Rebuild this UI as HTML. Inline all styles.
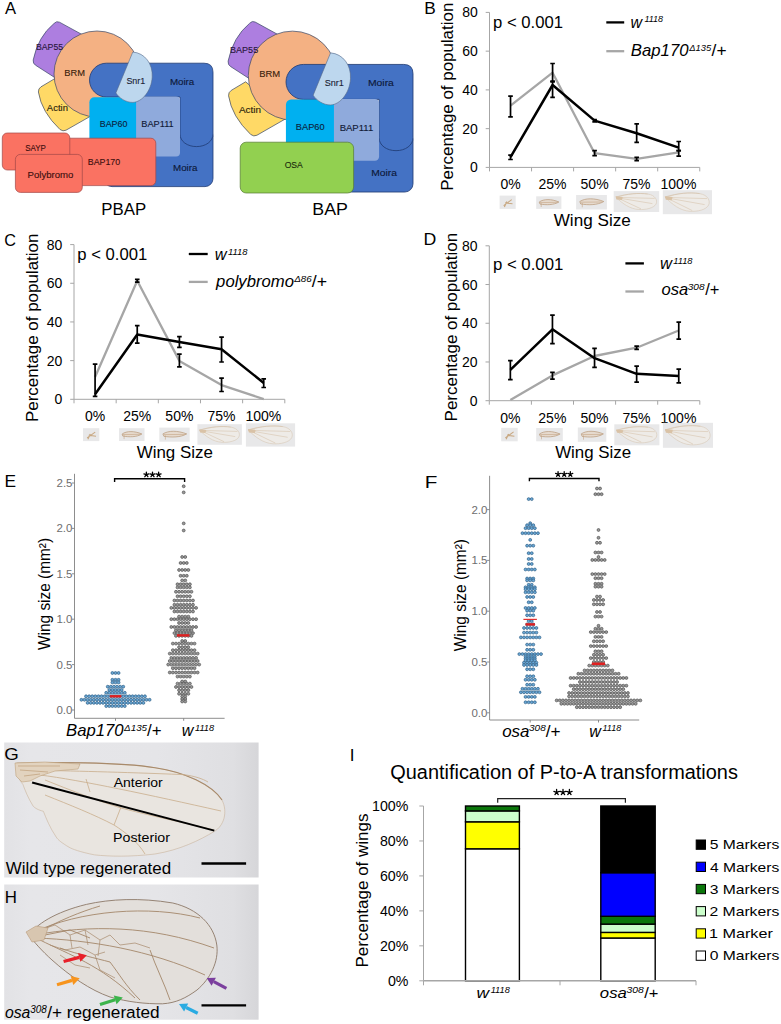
<!DOCTYPE html><html><head><meta charset="utf-8"><style>html,body{margin:0;padding:0;background:#fff;}svg{display:block;} text{font-family:"Liberation Sans",sans-serif;}</style></head><body><svg width="781" height="1024" viewBox="0 0 781 1024"><rect width="781" height="1024" fill="#fff"/><g><path d="M82,34.5 L59.5,22.2 Q56.5,20.6 54,23.5 Q38,36.65 33.2,60 Q32.8,63.5 35.5,65.2 L57,79 Z" fill="#ad7ee0" stroke="#3a4866" stroke-width="0.7"/><path d="M55,78.5 L41,86.8 Q38.2,88.6 38.4,92 Q41.5,112 60,129.5 Q63,131.8 66,130.2 L96,113.1 Z" fill="#ffd966" stroke="#3a4866" stroke-width="0.7"/><circle cx="97" cy="74" r="43" fill="#f4b183" stroke="#3a4866" stroke-width="0.7"/><rect x="104" y="128" width="109" height="58.6" rx="8" fill="#4472c4" stroke="#1f3b73" stroke-width="0.8"/><path d="M106.4,63.2 H204 Q213,63.2 213,72.2 V134 C213,141.5 205.6,146.6 196.5,146.6 C187.4,146.6 180,141.5 180,134 V97 H106.4 A16.9,16.9 0 0 1 106.4,63.2 Z" fill="#4472c4" stroke="#1f3b73" stroke-width="0.8"/><rect x="89.4" y="97.2" width="55" height="55" rx="5" fill="#00b0f0"/><rect x="136.1" y="96.6" width="43.9" height="59.8" rx="4" fill="#8faadc"/><path d="M132.8,52 C145,53 153,64 152.2,77 C151.5,91 142,102 133,102.4 C126,102.6 119,98 115.9,92.9 Z" fill="#bdd7ee" stroke="#56698a" stroke-width="0.6"/></g>
<text x="35.99" y="50.00" font-size="9.30" fill="#28163c" textLength="27.08" lengthAdjust="spacingAndGlyphs" stroke="#28163c" stroke-width="0.12">BAP55</text>
<text x="46.88" y="110.80" font-size="9.30" fill="#2a220c" textLength="21.03" lengthAdjust="spacingAndGlyphs" stroke="#2a220c" stroke-width="0.12">Actin</text>
<text x="64.23" y="76.40" font-size="9.30" fill="#3a1e0c" textLength="20.73" lengthAdjust="spacingAndGlyphs" stroke="#3a1e0c" stroke-width="0.12">BRM</text>
<text x="126.39" y="83.60" font-size="9.30" fill="#1a2234" textLength="18.84" lengthAdjust="spacingAndGlyphs" stroke="#1a2234" stroke-width="0.12">Snr1</text>
<text x="169.90" y="84.80" font-size="9.30" fill="#0c1838" textLength="24.40" lengthAdjust="spacingAndGlyphs" stroke="#0c1838" stroke-width="0.12">Moira</text>
<text x="99.77" y="127.40" font-size="9.30" fill="#0c1e3c" textLength="27.68" lengthAdjust="spacingAndGlyphs" stroke="#0c1e3c" stroke-width="0.12">BAP60</text>
<text x="141.27" y="127.20" font-size="9.30" fill="#0f1834" textLength="32.46" lengthAdjust="spacingAndGlyphs" stroke="#0f1834" stroke-width="0.12">BAP111</text>
<text x="173.00" y="170.70" font-size="9.30" fill="#0c1838" textLength="24.40" lengthAdjust="spacingAndGlyphs" stroke="#0c1838" stroke-width="0.12">Moira</text>
<rect x="60" y="138.2" width="95.8" height="47.4" rx="5" fill="#fa7262" stroke="#a04848" stroke-width="0.7"/>
<rect x="2.3" y="133" width="67.5" height="37" rx="5" fill="#fa7262" stroke="#a04848" stroke-width="0.7"/>
<rect x="15.4" y="154.4" width="66.9" height="38" rx="5" fill="#fa7262" stroke="#a04848" stroke-width="0.7"/>
<text x="25.25" y="150.60" font-size="9.30" fill="#3a0e0e" textLength="20.66" lengthAdjust="spacingAndGlyphs" stroke="#3a0e0e" stroke-width="0.12">SAYP</text>
<text x="27.61" y="178.40" font-size="9.30" fill="#3a0e0e" textLength="45.79" lengthAdjust="spacingAndGlyphs" stroke="#3a0e0e" stroke-width="0.12">Polybromo</text>
<text x="87.78" y="165.20" font-size="9.30" fill="#3a0e0e" textLength="32.37" lengthAdjust="spacingAndGlyphs" stroke="#3a0e0e" stroke-width="0.12">BAP170</text>
<g transform="matrix(1.0282,0,0,1.034,194,-0.92)"><path d="M82,34.5 L59.5,22.2 Q56.5,20.6 54,23.5 Q38,36.65 33.2,60 Q32.8,63.5 35.5,65.2 L57,79 Z" fill="#ad7ee0" stroke="#3a4866" stroke-width="0.7"/><g transform="translate(-4.8,1.5)"><path d="M55,78.5 L41,86.8 Q38.2,88.6 38.4,92 Q41.5,112 60,129.5 Q63,131.8 66,130.2 L96,113.1 Z" fill="#ffd966" stroke="#3a4866" stroke-width="0.7"/></g><circle cx="97" cy="74" r="43" fill="#f4b183" stroke="#3a4866" stroke-width="0.7" transform="translate(-1.2,0)"/><rect x="104" y="128" width="109" height="58.6" rx="8" fill="#4472c4" stroke="#1f3b73" stroke-width="0.8"/><path d="M106.4,63.2 H204 Q213,63.2 213,72.2 V134 C213,141.5 205.6,146.6 196.5,146.6 C187.4,146.6 180,141.5 180,134 V97 H106.4 A16.9,16.9 0 0 1 106.4,63.2 Z" fill="#4472c4" stroke="#1f3b73" stroke-width="0.8"/><rect x="89.4" y="97.2" width="55" height="55" rx="5" fill="#00b0f0"/><rect x="136.1" y="96.6" width="43.9" height="59.8" rx="4" fill="#8faadc"/><path d="M132.8,52 C145,53 153,64 152.2,77 C151.5,91 142,102 133,102.4 C126,102.6 119,98 115.9,92.9 Z" fill="#bdd7ee" stroke="#56698a" stroke-width="0.6"/></g>
<rect x="240.2" y="142.2" width="113.4" height="50.8" rx="6" fill="#92d050" stroke="#557a30" stroke-width="0.7"/>
<text x="230.06" y="52.50" font-size="9.30" fill="#28163c" textLength="28.12" lengthAdjust="spacingAndGlyphs" stroke="#28163c" stroke-width="0.12">BAP55</text>
<text x="238.98" y="113.40" font-size="9.30" fill="#2a220c" textLength="22.06" lengthAdjust="spacingAndGlyphs" stroke="#2a220c" stroke-width="0.12">Actin</text>
<text x="259.23" y="76.60" font-size="9.30" fill="#3a1e0c" textLength="20.95" lengthAdjust="spacingAndGlyphs" stroke="#3a1e0c" stroke-width="0.12">BRM</text>
<text x="324.69" y="85.90" font-size="9.30" fill="#1a2234" textLength="19.15" lengthAdjust="spacingAndGlyphs" stroke="#1a2234" stroke-width="0.12">Snr1</text>
<text x="367.95" y="86.30" font-size="9.30" fill="#0c1838" textLength="25.95" lengthAdjust="spacingAndGlyphs" stroke="#0c1838" stroke-width="0.12">Moira</text>
<text x="295.84" y="130.30" font-size="9.30" fill="#0c1e3c" textLength="28.72" lengthAdjust="spacingAndGlyphs" stroke="#0c1e3c" stroke-width="0.12">BAP60</text>
<text x="339.65" y="130.70" font-size="9.30" fill="#0f1834" textLength="33.60" lengthAdjust="spacingAndGlyphs" stroke="#0f1834" stroke-width="0.12">BAP111</text>
<text x="371.16" y="175.60" font-size="9.30" fill="#0c1838" textLength="25.74" lengthAdjust="spacingAndGlyphs" stroke="#0c1838" stroke-width="0.12">Moira</text>
<text x="284.69" y="168.40" font-size="9.30" fill="#1a2a0c" textLength="18.12" lengthAdjust="spacingAndGlyphs" stroke="#1a2a0c" stroke-width="0.12">OSA</text>
<text x="101.32" y="214.60" font-size="16.50" fill="#000" textLength="44.87" lengthAdjust="spacingAndGlyphs" >PBAP</text>
<text x="312.34" y="214.60" font-size="16.50" fill="#000" textLength="35.60" lengthAdjust="spacingAndGlyphs" >BAP</text>
<text x="4.97" y="14.00" font-size="16.00" fill="#000" textLength="11.06" lengthAdjust="spacingAndGlyphs" >A</text>
<text x="424.28" y="13.80" font-size="16.20" fill="#000" textLength="11.53" lengthAdjust="spacingAndGlyphs" >B</text>
<line x1="489.5" y1="12.40" x2="489.5" y2="167.40" stroke="#a6a6a6" stroke-width="1"/>
<line x1="485.70" y1="167.40" x2="489.5" y2="167.40" stroke="#a6a6a6" stroke-width="1"/>
<text x="469.96" y="172.40" font-size="14.00" fill="#000" >0</text>
<line x1="485.70" y1="128.65" x2="489.5" y2="128.65" stroke="#a6a6a6" stroke-width="1"/>
<text x="462.17" y="133.65" font-size="14.00" fill="#000" >20</text>
<line x1="485.70" y1="89.90" x2="489.5" y2="89.90" stroke="#a6a6a6" stroke-width="1"/>
<text x="462.17" y="94.90" font-size="14.00" fill="#000" >40</text>
<line x1="485.70" y1="51.15" x2="489.5" y2="51.15" stroke="#a6a6a6" stroke-width="1"/>
<text x="462.17" y="56.15" font-size="14.00" fill="#000" >60</text>
<line x1="485.70" y1="12.40" x2="489.5" y2="12.40" stroke="#a6a6a6" stroke-width="1"/>
<text x="462.17" y="17.40" font-size="14.00" fill="#000" >80</text>
<line x1="489.5" y1="167.40" x2="699.75" y2="167.40" stroke="#a6a6a6" stroke-width="1"/>
<line x1="489.50" y1="167.40" x2="489.50" y2="171.40" stroke="#a6a6a6" stroke-width="1"/>
<line x1="531.55" y1="167.40" x2="531.55" y2="171.40" stroke="#a6a6a6" stroke-width="1"/>
<line x1="573.60" y1="167.40" x2="573.60" y2="171.40" stroke="#a6a6a6" stroke-width="1"/>
<line x1="615.65" y1="167.40" x2="615.65" y2="171.40" stroke="#a6a6a6" stroke-width="1"/>
<line x1="657.70" y1="167.40" x2="657.70" y2="171.40" stroke="#a6a6a6" stroke-width="1"/>
<line x1="699.75" y1="167.40" x2="699.75" y2="171.40" stroke="#a6a6a6" stroke-width="1"/>
<text x="500.38" y="189.20" font-size="14.00" fill="#000" >0%</text>
<text x="538.46" y="189.20" font-size="14.00" fill="#000" >25%</text>
<text x="580.58" y="189.20" font-size="14.00" fill="#000" >50%</text>
<text x="622.56" y="189.20" font-size="14.00" fill="#000" >75%</text>
<text x="660.54" y="189.20" font-size="14.00" fill="#000" >100%</text>
<polyline points="510.52,105.70 552.58,72.70 594.62,153.20 636.67,158.80 678.73,152.40" fill="none" stroke="#a6a6a6" stroke-width="2.3" stroke-linejoin="round"/>
<polyline points="510.52,157.20 552.58,85.00 594.62,120.60 636.67,133.30 678.73,147.60" fill="none" stroke="#000" stroke-width="2.5" stroke-linejoin="round"/>
<path d="M510.52,155.20 V159.50 M508.22,155.20 H512.82 M508.22,159.50 H512.82" stroke="#000" stroke-width="1.7" fill="none"/>
<path d="M510.52,96.20 V116.90 M508.22,96.20 H512.82 M508.22,116.90 H512.82" stroke="#000" stroke-width="1.7" fill="none"/>
<path d="M552.58,63.50 V81.80 M550.28,63.50 H554.88 M550.28,81.80 H554.88" stroke="#000" stroke-width="1.7" fill="none"/>
<path d="M552.58,81.10 V97.30 M550.28,81.10 H554.88 M550.28,97.30 H554.88" stroke="#000" stroke-width="1.7" fill="none"/>
<path d="M594.62,119.50 V121.80 M592.33,119.50 H596.92 M592.33,121.80 H596.92" stroke="#000" stroke-width="1.7" fill="none"/>
<path d="M594.62,150.70 V155.60 M592.33,150.70 H596.92 M592.33,155.60 H596.92" stroke="#000" stroke-width="1.7" fill="none"/>
<path d="M636.67,123.80 V142.30 M634.38,123.80 H638.97 M634.38,142.30 H638.97" stroke="#000" stroke-width="1.7" fill="none"/>
<path d="M636.67,157.30 V160.70 M634.38,157.30 H638.97 M634.38,160.70 H638.97" stroke="#000" stroke-width="1.7" fill="none"/>
<path d="M678.73,141.50 V150.70 M676.43,141.50 H681.02 M676.43,150.70 H681.02" stroke="#000" stroke-width="1.7" fill="none"/>
<path d="M678.73,150.70 V156.10 M676.43,150.70 H681.02 M676.43,156.10 H681.02" stroke="#000" stroke-width="1.7" fill="none"/>
<line x1="606.3" y1="22.4" x2="624.2" y2="22.4" stroke="#000" stroke-width="2.3"/>
<line x1="606.3" y1="51.2" x2="624.2" y2="51.2" stroke="#a6a6a6" stroke-width="2.3"/>
<text x="630.50" y="27.60" font-size="16.30" fill="#000" font-style="italic" textLength="11.54" lengthAdjust="spacingAndGlyphs" >w</text><text x="644.38" y="21.80" font-size="9.30" fill="#000" font-style="italic" textLength="18.67" lengthAdjust="spacingAndGlyphs" >1118</text>
<text x="630.78" y="56.10" font-size="16.50" fill="#000" font-style="italic" textLength="57.75" lengthAdjust="spacingAndGlyphs" >Bap170</text><text x="689.28" y="50.80" font-size="9.30" fill="#000" font-style="italic" textLength="21.89" lengthAdjust="spacingAndGlyphs" >Δ135</text><text x="711.60" y="56.10" font-size="16.50" fill="#000" textLength="14.96" lengthAdjust="spacingAndGlyphs" >/+</text>
<text x="493.03" y="27.70" font-size="16.50" fill="#000" textLength="69.99" lengthAdjust="spacingAndGlyphs" >p &lt; 0.001</text>
<rect x="499.60" y="195.60" width="16.10" height="13.30" fill="#e8e8e9"/><path d="M503.6,205.6 L511.7,199.6 M505.2,202.9 L512.5,203.8 M506.8,201.6 L504.4,206.9" stroke="#c8a882" stroke-width="1.1" fill="none"/>
<rect x="536.20" y="196.30" width="25.20" height="12.60" fill="#e8e8e9"/><path d="M539.2,202.0 C543.8,198.8 551.3,198.8 558.9,202.0 C553.8,205.1 546.3,205.1 540.0,204.1 Z" fill="#e6dace" stroke="#b89878" stroke-width="0.7"/><path d="M540.0,202.6 L557.6,202.3 M541.2,203.2 L541.2,207.0" stroke="#c4a584" stroke-width="0.6" fill="none"/>
<rect x="576.10" y="195.00" width="30.80" height="14.50" fill="#e8e8e9"/><path d="M579.8,201.5 C585.3,197.9 594.6,197.9 603.8,201.5 C597.7,205.2 588.4,205.2 580.7,204.0 Z" fill="#e6dace" stroke="#b89878" stroke-width="0.7"/><path d="M580.7,202.2 L602.3,202.0 M582.3,203.0 L582.3,207.3" stroke="#c4a584" stroke-width="0.6" fill="none"/>
<rect x="613.70" y="191.10" width="45.50" height="20.90" fill="#e8e8e9"/><path d="M616.0,197.4 C627.4,193.6 638.7,192.8 647.8,194.0 C655.6,195.3 657.8,200.5 656.0,204.1 C653.7,208.2 645.6,209.9 638.7,209.5 C629.6,208.9 622.8,203.6 616.0,197.4 Z" fill="#eeebe7" stroke="#d6c7b5" stroke-width="0.6"/><path d="M616.0,197.4 L654.7,198.4 M617.3,197.8 L652.4,203.6 M618.2,198.2 L641.0,208.9 M616.0,197.0 C627.4,193.6 638.7,192.8 647.8,194.0" stroke="#d2bca2" stroke-width="0.5" fill="none"/><path d="M615.5,196.3 L622.8,197.0 L621.9,199.9 L616.4,199.5 Z" fill="#d9c2a6"/>
<rect x="662.80" y="190.20" width="49.20" height="24.00" fill="#e8e8e9"/><path d="M665.3,197.4 C677.6,193.1 689.9,192.1 699.7,193.6 C708.1,195.0 710.5,201.0 708.6,205.1 C706.1,209.9 697.2,211.8 689.9,211.3 C680.0,210.6 672.6,204.6 665.3,197.4 Z" fill="#eeebe7" stroke="#d6c7b5" stroke-width="0.6"/><path d="M665.3,197.4 L707.1,198.6 M666.7,197.9 L704.6,204.6 M667.7,198.4 L692.3,210.6 M665.3,196.9 C677.6,193.1 689.9,192.1 699.7,193.6" stroke="#d2bca2" stroke-width="0.5" fill="none"/><path d="M664.8,196.2 L672.6,196.9 L671.7,200.3 L665.8,199.8 Z" fill="#d9c2a6"/>
<text x="553.72" y="225.50" font-size="17.00" fill="#000" textLength="77.04" lengthAdjust="spacingAndGlyphs" >Wing Size</text>
<text transform="translate(453.30,190.79) rotate(-90)" x="0" y="0" font-size="17.00" fill="#000" textLength="188.09" lengthAdjust="spacingAndGlyphs">Percentage of population</text>
<text x="4.27" y="246.20" font-size="16.20" fill="#000" textLength="11.75" lengthAdjust="spacingAndGlyphs" >C</text>
<line x1="74.0" y1="244.60" x2="74.0" y2="399.30" stroke="#a6a6a6" stroke-width="1"/>
<line x1="70.20" y1="399.30" x2="74.0" y2="399.30" stroke="#a6a6a6" stroke-width="1"/>
<text x="54.46" y="404.30" font-size="14.00" fill="#000" >0</text>
<line x1="70.20" y1="360.62" x2="74.0" y2="360.62" stroke="#a6a6a6" stroke-width="1"/>
<text x="46.67" y="365.62" font-size="14.00" fill="#000" >20</text>
<line x1="70.20" y1="321.95" x2="74.0" y2="321.95" stroke="#a6a6a6" stroke-width="1"/>
<text x="46.67" y="326.95" font-size="14.00" fill="#000" >40</text>
<line x1="70.20" y1="283.27" x2="74.0" y2="283.27" stroke="#a6a6a6" stroke-width="1"/>
<text x="46.67" y="288.27" font-size="14.00" fill="#000" >60</text>
<line x1="70.20" y1="244.60" x2="74.0" y2="244.60" stroke="#a6a6a6" stroke-width="1"/>
<text x="46.67" y="249.60" font-size="14.00" fill="#000" >80</text>
<line x1="74.0" y1="399.30" x2="284.80" y2="399.30" stroke="#a6a6a6" stroke-width="1"/>
<line x1="74.00" y1="399.30" x2="74.00" y2="403.30" stroke="#a6a6a6" stroke-width="1"/>
<line x1="116.16" y1="399.30" x2="116.16" y2="403.30" stroke="#a6a6a6" stroke-width="1"/>
<line x1="158.32" y1="399.30" x2="158.32" y2="403.30" stroke="#a6a6a6" stroke-width="1"/>
<line x1="200.48" y1="399.30" x2="200.48" y2="403.30" stroke="#a6a6a6" stroke-width="1"/>
<line x1="242.64" y1="399.30" x2="242.64" y2="403.30" stroke="#a6a6a6" stroke-width="1"/>
<line x1="284.80" y1="399.30" x2="284.80" y2="403.30" stroke="#a6a6a6" stroke-width="1"/>
<text x="84.94" y="421.10" font-size="14.00" fill="#000" >0%</text>
<text x="123.13" y="421.10" font-size="14.00" fill="#000" >25%</text>
<text x="165.36" y="421.10" font-size="14.00" fill="#000" >50%</text>
<text x="207.44" y="421.10" font-size="14.00" fill="#000" >75%</text>
<text x="245.53" y="421.10" font-size="14.00" fill="#000" >100%</text>
<polyline points="95.08,377.00 137.24,280.80 179.40,360.90 221.56,385.10 263.72,399.10" fill="none" stroke="#a6a6a6" stroke-width="2.3" stroke-linejoin="round"/>
<polyline points="95.08,394.20 137.24,334.50 179.40,342.00 221.56,349.30 263.72,382.90" fill="none" stroke="#000" stroke-width="2.5" stroke-linejoin="round"/>
<path d="M95.08,364.10 V396.40 M92.78,364.10 H97.38 M92.78,396.40 H97.38" stroke="#000" stroke-width="1.7" fill="none"/>
<path d="M137.24,325.70 V343.10 M134.94,325.70 H139.54 M134.94,343.10 H139.54" stroke="#000" stroke-width="1.7" fill="none"/>
<path d="M137.24,279.40 V282.10 M134.94,279.40 H139.54 M134.94,282.10 H139.54" stroke="#000" stroke-width="1.7" fill="none"/>
<path d="M179.40,336.70 V347.40 M177.10,336.70 H181.70 M177.10,347.40 H181.70" stroke="#000" stroke-width="1.7" fill="none"/>
<path d="M179.40,354.20 V366.80 M177.10,354.20 H181.70 M177.10,366.80 H181.70" stroke="#000" stroke-width="1.7" fill="none"/>
<path d="M221.56,337.20 V362.00 M219.26,337.20 H223.86 M219.26,362.00 H223.86" stroke="#000" stroke-width="1.7" fill="none"/>
<path d="M221.56,378.10 V391.50 M219.26,378.10 H223.86 M219.26,391.50 H223.86" stroke="#000" stroke-width="1.7" fill="none"/>
<path d="M263.72,378.90 V387.50 M261.42,378.90 H266.02 M261.42,387.50 H266.02" stroke="#000" stroke-width="1.7" fill="none"/>
<line x1="188.8" y1="254" x2="207.7" y2="254" stroke="#000" stroke-width="2.3"/>
<line x1="188.8" y1="281.9" x2="207.7" y2="281.9" stroke="#a6a6a6" stroke-width="2.3"/>
<text x="214.88" y="259.80" font-size="16.30" fill="#000" font-style="italic" textLength="11.84" lengthAdjust="spacingAndGlyphs" >w</text><text x="227.97" y="254.50" font-size="9.30" fill="#000" font-style="italic" textLength="19.48" lengthAdjust="spacingAndGlyphs" >1118</text>
<text x="216.12" y="287.10" font-size="16.50" fill="#000" font-style="italic" textLength="77.91" lengthAdjust="spacingAndGlyphs" >polybromo</text><text x="294.29" y="282.00" font-size="9.30" fill="#000" font-style="italic" textLength="17.51" lengthAdjust="spacingAndGlyphs" >Δ86</text><text x="311.80" y="287.10" font-size="16.50" fill="#000" textLength="15.27" lengthAdjust="spacingAndGlyphs" >/+</text>
<text x="77.33" y="260.30" font-size="16.50" fill="#000" textLength="69.99" lengthAdjust="spacingAndGlyphs" >p &lt; 0.001</text>
<rect x="83.00" y="428.20" width="16.30" height="12.90" fill="#e8e8e9"/><path d="M87.1,437.9 L95.2,432.1 M88.7,435.3 L96.0,436.2 M90.3,434.0 L87.9,439.2" stroke="#c8a882" stroke-width="1.1" fill="none"/>
<rect x="119.00" y="428.20" width="25.50" height="12.80" fill="#e8e8e9"/><path d="M122.1,434.0 C126.7,430.8 134.3,430.8 141.9,434.0 C136.8,437.2 129.2,437.2 122.8,436.1 Z" fill="#e6dace" stroke="#b89878" stroke-width="0.7"/><path d="M122.8,434.6 L140.7,434.3 M124.1,435.2 L124.1,439.1" stroke="#c4a584" stroke-width="0.6" fill="none"/>
<rect x="159.30" y="427.60" width="30.40" height="14.10" fill="#e8e8e9"/><path d="M162.9,433.9 C168.4,430.4 177.5,430.4 186.7,433.9 C180.6,437.5 171.5,437.5 163.9,436.3 Z" fill="#e6dace" stroke="#b89878" stroke-width="0.7"/><path d="M163.9,434.6 L185.1,434.4 M165.4,435.4 L165.4,439.6" stroke="#c4a584" stroke-width="0.6" fill="none"/>
<rect x="197.40" y="424.20" width="44.50" height="20.60" fill="#e8e8e9"/><path d="M199.6,430.4 C210.8,426.7 221.9,425.8 230.8,427.1 C238.3,428.3 240.6,433.5 238.8,437.0 C236.6,441.1 228.6,442.7 221.9,442.3 C213.0,441.7 206.3,436.6 199.6,430.4 Z" fill="#eeebe7" stroke="#d6c7b5" stroke-width="0.6"/><path d="M199.6,430.4 L237.5,431.4 M201.0,430.8 L235.2,436.6 M201.8,431.2 L224.1,441.7 M199.6,430.0 C210.8,426.7 221.9,425.8 230.8,427.1" stroke="#d2bca2" stroke-width="0.5" fill="none"/><path d="M199.2,429.4 L206.3,430.0 L205.4,432.9 L200.1,432.4 Z" fill="#d9c2a6"/>
<rect x="245.90" y="423.30" width="49.20" height="23.30" fill="#e8e8e9"/><path d="M248.4,430.3 C260.7,426.1 273.0,425.2 282.8,426.6 C291.2,428.0 293.6,433.8 291.7,437.7 C289.2,442.4 280.3,444.3 273.0,443.8 C263.1,443.1 255.7,437.3 248.4,430.3 Z" fill="#eeebe7" stroke="#d6c7b5" stroke-width="0.6"/><path d="M248.4,430.3 L290.2,431.5 M249.8,430.8 L287.7,437.3 M250.8,431.2 L275.4,443.1 M248.4,429.8 C260.7,426.1 273.0,425.2 282.8,426.6" stroke="#d2bca2" stroke-width="0.5" fill="none"/><path d="M247.9,429.1 L255.7,429.8 L254.8,433.1 L248.9,432.6 Z" fill="#d9c2a6"/>
<text x="136.73" y="458.00" font-size="17.00" fill="#000" textLength="76.13" lengthAdjust="spacingAndGlyphs" >Wing Size</text>
<text transform="translate(37.90,422.09) rotate(-90)" x="0" y="0" font-size="17.00" fill="#000" textLength="188.49" lengthAdjust="spacingAndGlyphs">Percentage of population</text>
<text x="423.55" y="244.60" font-size="16.20" fill="#000" textLength="12.80" lengthAdjust="spacingAndGlyphs" >D</text>
<line x1="489.3" y1="245.80" x2="489.3" y2="400.70" stroke="#a6a6a6" stroke-width="1"/>
<line x1="485.50" y1="400.70" x2="489.3" y2="400.70" stroke="#a6a6a6" stroke-width="1"/>
<text x="469.76" y="405.70" font-size="14.00" fill="#000" >0</text>
<line x1="485.50" y1="361.98" x2="489.3" y2="361.98" stroke="#a6a6a6" stroke-width="1"/>
<text x="461.97" y="366.98" font-size="14.00" fill="#000" >20</text>
<line x1="485.50" y1="323.25" x2="489.3" y2="323.25" stroke="#a6a6a6" stroke-width="1"/>
<text x="461.97" y="328.25" font-size="14.00" fill="#000" >40</text>
<line x1="485.50" y1="284.52" x2="489.3" y2="284.52" stroke="#a6a6a6" stroke-width="1"/>
<text x="461.97" y="289.52" font-size="14.00" fill="#000" >60</text>
<line x1="485.50" y1="245.80" x2="489.3" y2="245.80" stroke="#a6a6a6" stroke-width="1"/>
<text x="461.97" y="250.80" font-size="14.00" fill="#000" >80</text>
<line x1="489.3" y1="400.70" x2="699.80" y2="400.70" stroke="#a6a6a6" stroke-width="1"/>
<line x1="489.30" y1="400.70" x2="489.30" y2="404.70" stroke="#a6a6a6" stroke-width="1"/>
<line x1="531.40" y1="400.70" x2="531.40" y2="404.70" stroke="#a6a6a6" stroke-width="1"/>
<line x1="573.50" y1="400.70" x2="573.50" y2="404.70" stroke="#a6a6a6" stroke-width="1"/>
<line x1="615.60" y1="400.70" x2="615.60" y2="404.70" stroke="#a6a6a6" stroke-width="1"/>
<line x1="657.70" y1="400.70" x2="657.70" y2="404.70" stroke="#a6a6a6" stroke-width="1"/>
<line x1="699.80" y1="400.70" x2="699.80" y2="404.70" stroke="#a6a6a6" stroke-width="1"/>
<text x="500.21" y="422.50" font-size="14.00" fill="#000" >0%</text>
<text x="538.34" y="422.50" font-size="14.00" fill="#000" >25%</text>
<text x="580.51" y="422.50" font-size="14.00" fill="#000" >50%</text>
<text x="622.53" y="422.50" font-size="14.00" fill="#000" >75%</text>
<text x="660.56" y="422.50" font-size="14.00" fill="#000" >100%</text>
<polyline points="510.35,400.00 552.45,375.40 594.55,356.00 636.65,347.70 678.75,330.50" fill="none" stroke="#a6a6a6" stroke-width="2.3" stroke-linejoin="round"/>
<polyline points="510.35,369.90 552.45,329.30 594.55,358.20 636.65,373.80 678.75,376.00" fill="none" stroke="#000" stroke-width="2.5" stroke-linejoin="round"/>
<path d="M510.35,360.60 V379.70 M508.05,360.60 H512.65 M508.05,379.70 H512.65" stroke="#000" stroke-width="1.7" fill="none"/>
<path d="M552.45,315.10 V343.70 M550.15,315.10 H554.75 M550.15,343.70 H554.75" stroke="#000" stroke-width="1.7" fill="none"/>
<path d="M594.55,348.30 V367.40 M592.25,348.30 H596.85 M592.25,367.40 H596.85" stroke="#000" stroke-width="1.7" fill="none"/>
<path d="M636.65,366.20 V382.10 M634.35,366.20 H638.95 M634.35,382.10 H638.95" stroke="#000" stroke-width="1.7" fill="none"/>
<path d="M678.75,369.20 V382.80 M676.45,369.20 H681.05 M676.45,382.80 H681.05" stroke="#000" stroke-width="1.7" fill="none"/>
<path d="M552.45,372.30 V379.10 M550.15,372.30 H554.75 M550.15,379.10 H554.75" stroke="#000" stroke-width="1.7" fill="none"/>
<path d="M636.65,346.20 V349.30 M634.35,346.20 H638.95 M634.35,349.30 H638.95" stroke="#000" stroke-width="1.7" fill="none"/>
<path d="M678.75,322.20 V339.10 M676.45,322.20 H681.05 M676.45,339.10 H681.05" stroke="#000" stroke-width="1.7" fill="none"/>
<line x1="625.4" y1="263.4" x2="643.9" y2="263.4" stroke="#000" stroke-width="2.3"/>
<line x1="625.4" y1="291.5" x2="643.9" y2="291.5" stroke="#a6a6a6" stroke-width="2.3"/>
<text x="659.98" y="268.60" font-size="16.30" fill="#000" font-style="italic" textLength="11.94" lengthAdjust="spacingAndGlyphs" >w</text><text x="673.28" y="263.60" font-size="9.30" fill="#000" font-style="italic" textLength="19.27" lengthAdjust="spacingAndGlyphs" >1118</text>
<text x="661.46" y="295.40" font-size="16.50" fill="#000" font-style="italic" textLength="26.71" lengthAdjust="spacingAndGlyphs" >osa</text><text x="687.66" y="290.40" font-size="9.30" fill="#000" font-style="italic" textLength="16.90" lengthAdjust="spacingAndGlyphs" >308</text><text x="705.20" y="295.40" font-size="16.50" fill="#000" textLength="14.21" lengthAdjust="spacingAndGlyphs" >/+</text>
<text x="492.92" y="270.30" font-size="16.50" fill="#000" textLength="70.40" lengthAdjust="spacingAndGlyphs" >p &lt; 0.001</text>
<rect x="501.20" y="427.80" width="16.50" height="13.50" fill="#e8e8e9"/><path d="M505.3,437.9 L513.6,431.9 M507.0,435.2 L514.4,436.2 M508.6,433.9 L506.1,439.3" stroke="#c8a882" stroke-width="1.1" fill="none"/>
<rect x="536.20" y="428.00" width="26.60" height="13.30" fill="#e8e8e9"/><path d="M539.4,434.0 C544.2,430.7 552.2,430.7 560.1,434.0 C554.8,437.3 546.8,437.3 540.2,436.2 Z" fill="#e6dace" stroke="#b89878" stroke-width="0.7"/><path d="M540.2,434.6 L558.8,434.4 M541.5,435.3 L541.5,439.3" stroke="#c4a584" stroke-width="0.6" fill="none"/>
<rect x="577.80" y="427.50" width="28.50" height="14.30" fill="#e8e8e9"/><path d="M581.2,433.9 C586.3,430.4 594.9,430.4 603.4,433.9 C597.8,437.5 589.2,437.5 582.1,436.4 Z" fill="#e6dace" stroke="#b89878" stroke-width="0.7"/><path d="M582.1,434.6 L602.0,434.4 M583.5,435.4 L583.5,439.7" stroke="#c4a584" stroke-width="0.6" fill="none"/>
<rect x="614.30" y="424.30" width="45.10" height="21.00" fill="#e8e8e9"/><path d="M616.6,430.6 C627.8,426.8 639.1,426.0 648.1,427.2 C655.8,428.5 658.0,433.8 656.2,437.3 C654.0,441.5 645.9,443.2 639.1,442.8 C630.1,442.2 623.3,436.9 616.6,430.6 Z" fill="#eeebe7" stroke="#d6c7b5" stroke-width="0.6"/><path d="M616.6,430.6 L654.9,431.7 M617.9,431.0 L652.6,436.9 M618.8,431.4 L641.4,442.2 M616.6,430.2 C627.8,426.8 639.1,426.0 648.1,427.2" stroke="#d2bca2" stroke-width="0.5" fill="none"/><path d="M616.1,429.6 L623.3,430.2 L622.4,433.1 L617.0,432.7 Z" fill="#d9c2a6"/>
<rect x="662.90" y="422.80" width="50.10" height="25.00" fill="#e8e8e9"/><path d="M665.4,430.3 C677.9,425.8 690.5,424.8 700.5,426.3 C709.0,427.8 711.5,434.1 709.5,438.3 C707.0,443.3 698.0,445.3 690.5,444.8 C680.4,444.1 672.9,437.8 665.4,430.3 Z" fill="#eeebe7" stroke="#d6c7b5" stroke-width="0.6"/><path d="M665.4,430.3 L708.0,431.6 M666.9,430.8 L705.5,437.8 M667.9,431.3 L693.0,444.1 M665.4,429.8 C677.9,425.8 690.5,424.8 700.5,426.3" stroke="#d2bca2" stroke-width="0.5" fill="none"/><path d="M664.9,429.1 L672.9,429.8 L671.9,433.3 L665.9,432.8 Z" fill="#d9c2a6"/>
<text x="555.13" y="457.80" font-size="17.00" fill="#000" textLength="76.02" lengthAdjust="spacingAndGlyphs" >Wing Size</text>
<text transform="translate(456.60,421.39) rotate(-90)" x="0" y="0" font-size="17.00" fill="#000" textLength="188.49" lengthAdjust="spacingAndGlyphs">Percentage of population</text>
<text x="4.48" y="487.00" font-size="17.00" fill="#000" textLength="11.57" lengthAdjust="spacingAndGlyphs" >E</text>
<line x1="74.5" y1="473.8" x2="74.5" y2="718.3" stroke="#808080" stroke-width="0.9"/>
<line x1="74.5" y1="718.3" x2="224.6" y2="718.3" stroke="#808080" stroke-width="0.9"/>
<line x1="72.0" y1="710.00" x2="74.5" y2="710.00" stroke="#808080" stroke-width="0.9"/>
<text x="56.46" y="714.00" font-size="11.50" fill="#6e6e6e" >0.0</text>
<line x1="72.0" y1="664.60" x2="74.5" y2="664.60" stroke="#808080" stroke-width="0.9"/>
<text x="56.50" y="668.60" font-size="11.50" fill="#6e6e6e" >0.5</text>
<line x1="72.0" y1="619.20" x2="74.5" y2="619.20" stroke="#808080" stroke-width="0.9"/>
<text x="56.46" y="623.20" font-size="11.50" fill="#6e6e6e" >1.0</text>
<line x1="72.0" y1="573.80" x2="74.5" y2="573.80" stroke="#808080" stroke-width="0.9"/>
<text x="56.50" y="577.80" font-size="11.50" fill="#6e6e6e" >1.5</text>
<line x1="72.0" y1="528.40" x2="74.5" y2="528.40" stroke="#808080" stroke-width="0.9"/>
<text x="56.46" y="532.40" font-size="11.50" fill="#6e6e6e" >2.0</text>
<line x1="72.0" y1="483.00" x2="74.5" y2="483.00" stroke="#808080" stroke-width="0.9"/>
<text x="56.50" y="487.00" font-size="11.50" fill="#6e6e6e" >2.5</text>
<line x1="115.5" y1="718.3" x2="115.5" y2="720.8" stroke="#808080" stroke-width="0.9"/>
<line x1="183.7" y1="718.3" x2="183.7" y2="720.8" stroke="#808080" stroke-width="0.9"/>
<g fill="#9a9a9a" stroke="#4a4a4a" stroke-width="0.65"><circle cx="183.70" cy="486.30" r="1.45"/><circle cx="183.70" cy="492.40" r="1.45"/><circle cx="183.70" cy="523.40" r="1.45"/><circle cx="183.70" cy="530.50" r="1.45"/><circle cx="182.15" cy="557.00" r="1.45"/><circle cx="185.25" cy="557.00" r="1.45"/><circle cx="180.60" cy="563.00" r="1.45"/><circle cx="183.70" cy="563.00" r="1.45"/><circle cx="186.80" cy="563.00" r="1.45"/><circle cx="179.05" cy="570.00" r="1.45"/><circle cx="182.15" cy="570.00" r="1.45"/><circle cx="185.25" cy="570.00" r="1.45"/><circle cx="188.35" cy="570.00" r="1.45"/><circle cx="180.60" cy="575.80" r="1.45"/><circle cx="183.70" cy="575.80" r="1.45"/><circle cx="186.80" cy="575.80" r="1.45"/><circle cx="182.15" cy="580.40" r="1.45"/><circle cx="185.25" cy="580.40" r="1.45"/><circle cx="177.50" cy="584.30" r="1.45"/><circle cx="180.60" cy="584.30" r="1.45"/><circle cx="183.70" cy="584.30" r="1.45"/><circle cx="186.80" cy="584.30" r="1.45"/><circle cx="189.90" cy="584.30" r="1.45"/><circle cx="177.50" cy="587.40" r="1.45"/><circle cx="180.60" cy="587.40" r="1.45"/><circle cx="183.70" cy="587.40" r="1.45"/><circle cx="186.80" cy="587.40" r="1.45"/><circle cx="189.90" cy="587.40" r="1.45"/><circle cx="175.95" cy="591.80" r="1.45"/><circle cx="179.05" cy="591.80" r="1.45"/><circle cx="182.15" cy="591.80" r="1.45"/><circle cx="185.25" cy="591.80" r="1.45"/><circle cx="188.35" cy="591.80" r="1.45"/><circle cx="191.45" cy="591.80" r="1.45"/><circle cx="177.50" cy="596.30" r="1.45"/><circle cx="180.60" cy="596.30" r="1.45"/><circle cx="183.70" cy="596.30" r="1.45"/><circle cx="186.80" cy="596.30" r="1.45"/><circle cx="189.90" cy="596.30" r="1.45"/><circle cx="174.40" cy="600.50" r="1.45"/><circle cx="177.50" cy="600.50" r="1.45"/><circle cx="180.60" cy="600.50" r="1.45"/><circle cx="183.70" cy="600.50" r="1.45"/><circle cx="186.80" cy="600.50" r="1.45"/><circle cx="189.90" cy="600.50" r="1.45"/><circle cx="193.00" cy="600.50" r="1.45"/><circle cx="174.40" cy="604.80" r="1.45"/><circle cx="177.50" cy="604.80" r="1.45"/><circle cx="180.60" cy="604.80" r="1.45"/><circle cx="183.70" cy="604.80" r="1.45"/><circle cx="186.80" cy="604.80" r="1.45"/><circle cx="189.90" cy="604.80" r="1.45"/><circle cx="193.00" cy="604.80" r="1.45"/><circle cx="171.30" cy="607.90" r="1.45"/><circle cx="174.40" cy="607.90" r="1.45"/><circle cx="177.50" cy="607.90" r="1.45"/><circle cx="180.60" cy="607.90" r="1.45"/><circle cx="183.70" cy="607.90" r="1.45"/><circle cx="186.80" cy="607.90" r="1.45"/><circle cx="189.90" cy="607.90" r="1.45"/><circle cx="193.00" cy="607.90" r="1.45"/><circle cx="196.10" cy="607.90" r="1.45"/><circle cx="174.40" cy="611.50" r="1.45"/><circle cx="177.50" cy="611.50" r="1.45"/><circle cx="180.60" cy="611.50" r="1.45"/><circle cx="183.70" cy="611.50" r="1.45"/><circle cx="186.80" cy="611.50" r="1.45"/><circle cx="189.90" cy="611.50" r="1.45"/><circle cx="193.00" cy="611.50" r="1.45"/><circle cx="179.05" cy="616.60" r="1.45"/><circle cx="182.15" cy="616.60" r="1.45"/><circle cx="185.25" cy="616.60" r="1.45"/><circle cx="188.35" cy="616.60" r="1.45"/><circle cx="171.30" cy="619.20" r="1.45"/><circle cx="174.40" cy="619.20" r="1.45"/><circle cx="177.50" cy="619.20" r="1.45"/><circle cx="180.60" cy="619.20" r="1.45"/><circle cx="183.70" cy="619.20" r="1.45"/><circle cx="186.80" cy="619.20" r="1.45"/><circle cx="189.90" cy="619.20" r="1.45"/><circle cx="193.00" cy="619.20" r="1.45"/><circle cx="196.10" cy="619.20" r="1.45"/><circle cx="179.05" cy="623.00" r="1.45"/><circle cx="182.15" cy="623.00" r="1.45"/><circle cx="185.25" cy="623.00" r="1.45"/><circle cx="188.35" cy="623.00" r="1.45"/><circle cx="171.30" cy="627.00" r="1.45"/><circle cx="174.40" cy="627.00" r="1.45"/><circle cx="177.50" cy="627.00" r="1.45"/><circle cx="180.60" cy="627.00" r="1.45"/><circle cx="183.70" cy="627.00" r="1.45"/><circle cx="186.80" cy="627.00" r="1.45"/><circle cx="189.90" cy="627.00" r="1.45"/><circle cx="193.00" cy="627.00" r="1.45"/><circle cx="196.10" cy="627.00" r="1.45"/><circle cx="175.95" cy="630.20" r="1.45"/><circle cx="179.05" cy="630.20" r="1.45"/><circle cx="182.15" cy="630.20" r="1.45"/><circle cx="185.25" cy="630.20" r="1.45"/><circle cx="188.35" cy="630.20" r="1.45"/><circle cx="191.45" cy="630.20" r="1.45"/><circle cx="174.40" cy="633.10" r="1.45"/><circle cx="177.50" cy="633.10" r="1.45"/><circle cx="180.60" cy="633.10" r="1.45"/><circle cx="183.70" cy="633.10" r="1.45"/><circle cx="186.80" cy="633.10" r="1.45"/><circle cx="189.90" cy="633.10" r="1.45"/><circle cx="193.00" cy="633.10" r="1.45"/><circle cx="175.95" cy="635.90" r="1.45"/><circle cx="179.05" cy="635.90" r="1.45"/><circle cx="182.15" cy="635.90" r="1.45"/><circle cx="185.25" cy="635.90" r="1.45"/><circle cx="188.35" cy="635.90" r="1.45"/><circle cx="191.45" cy="635.90" r="1.45"/><circle cx="182.15" cy="641.00" r="1.45"/><circle cx="185.25" cy="641.00" r="1.45"/><circle cx="172.85" cy="643.60" r="1.45"/><circle cx="175.95" cy="643.60" r="1.45"/><circle cx="179.05" cy="643.60" r="1.45"/><circle cx="182.15" cy="643.60" r="1.45"/><circle cx="185.25" cy="643.60" r="1.45"/><circle cx="188.35" cy="643.60" r="1.45"/><circle cx="191.45" cy="643.60" r="1.45"/><circle cx="194.55" cy="643.60" r="1.45"/><circle cx="179.05" cy="647.20" r="1.45"/><circle cx="182.15" cy="647.20" r="1.45"/><circle cx="185.25" cy="647.20" r="1.45"/><circle cx="188.35" cy="647.20" r="1.45"/><circle cx="172.85" cy="650.20" r="1.45"/><circle cx="175.95" cy="650.20" r="1.45"/><circle cx="179.05" cy="650.20" r="1.45"/><circle cx="182.15" cy="650.20" r="1.45"/><circle cx="185.25" cy="650.20" r="1.45"/><circle cx="188.35" cy="650.20" r="1.45"/><circle cx="191.45" cy="650.20" r="1.45"/><circle cx="194.55" cy="650.20" r="1.45"/><circle cx="169.75" cy="653.60" r="1.45"/><circle cx="172.85" cy="653.60" r="1.45"/><circle cx="175.95" cy="653.60" r="1.45"/><circle cx="179.05" cy="653.60" r="1.45"/><circle cx="182.15" cy="653.60" r="1.45"/><circle cx="185.25" cy="653.60" r="1.45"/><circle cx="188.35" cy="653.60" r="1.45"/><circle cx="191.45" cy="653.60" r="1.45"/><circle cx="194.55" cy="653.60" r="1.45"/><circle cx="197.65" cy="653.60" r="1.45"/><circle cx="171.30" cy="657.90" r="1.45"/><circle cx="174.40" cy="657.90" r="1.45"/><circle cx="177.50" cy="657.90" r="1.45"/><circle cx="180.60" cy="657.90" r="1.45"/><circle cx="183.70" cy="657.90" r="1.45"/><circle cx="186.80" cy="657.90" r="1.45"/><circle cx="189.90" cy="657.90" r="1.45"/><circle cx="193.00" cy="657.90" r="1.45"/><circle cx="196.10" cy="657.90" r="1.45"/><circle cx="169.75" cy="661.00" r="1.45"/><circle cx="172.85" cy="661.00" r="1.45"/><circle cx="175.95" cy="661.00" r="1.45"/><circle cx="179.05" cy="661.00" r="1.45"/><circle cx="182.15" cy="661.00" r="1.45"/><circle cx="185.25" cy="661.00" r="1.45"/><circle cx="188.35" cy="661.00" r="1.45"/><circle cx="191.45" cy="661.00" r="1.45"/><circle cx="194.55" cy="661.00" r="1.45"/><circle cx="197.65" cy="661.00" r="1.45"/><circle cx="168.20" cy="664.60" r="1.45"/><circle cx="171.30" cy="664.60" r="1.45"/><circle cx="174.40" cy="664.60" r="1.45"/><circle cx="177.50" cy="664.60" r="1.45"/><circle cx="180.60" cy="664.60" r="1.45"/><circle cx="183.70" cy="664.60" r="1.45"/><circle cx="186.80" cy="664.60" r="1.45"/><circle cx="189.90" cy="664.60" r="1.45"/><circle cx="193.00" cy="664.60" r="1.45"/><circle cx="196.10" cy="664.60" r="1.45"/><circle cx="199.20" cy="664.60" r="1.45"/><circle cx="172.85" cy="668.20" r="1.45"/><circle cx="175.95" cy="668.20" r="1.45"/><circle cx="179.05" cy="668.20" r="1.45"/><circle cx="182.15" cy="668.20" r="1.45"/><circle cx="185.25" cy="668.20" r="1.45"/><circle cx="188.35" cy="668.20" r="1.45"/><circle cx="191.45" cy="668.20" r="1.45"/><circle cx="194.55" cy="668.20" r="1.45"/><circle cx="169.75" cy="672.50" r="1.45"/><circle cx="172.85" cy="672.50" r="1.45"/><circle cx="175.95" cy="672.50" r="1.45"/><circle cx="179.05" cy="672.50" r="1.45"/><circle cx="182.15" cy="672.50" r="1.45"/><circle cx="185.25" cy="672.50" r="1.45"/><circle cx="188.35" cy="672.50" r="1.45"/><circle cx="191.45" cy="672.50" r="1.45"/><circle cx="194.55" cy="672.50" r="1.45"/><circle cx="197.65" cy="672.50" r="1.45"/><circle cx="177.50" cy="676.60" r="1.45"/><circle cx="180.60" cy="676.60" r="1.45"/><circle cx="183.70" cy="676.60" r="1.45"/><circle cx="186.80" cy="676.60" r="1.45"/><circle cx="189.90" cy="676.60" r="1.45"/><circle cx="182.15" cy="681.50" r="1.45"/><circle cx="185.25" cy="681.50" r="1.45"/><circle cx="177.50" cy="683.60" r="1.45"/><circle cx="180.60" cy="683.60" r="1.45"/><circle cx="183.70" cy="683.60" r="1.45"/><circle cx="186.80" cy="683.60" r="1.45"/><circle cx="189.90" cy="683.60" r="1.45"/><circle cx="175.95" cy="687.00" r="1.45"/><circle cx="179.05" cy="687.00" r="1.45"/><circle cx="182.15" cy="687.00" r="1.45"/><circle cx="185.25" cy="687.00" r="1.45"/><circle cx="188.35" cy="687.00" r="1.45"/><circle cx="191.45" cy="687.00" r="1.45"/><circle cx="179.05" cy="690.20" r="1.45"/><circle cx="182.15" cy="690.20" r="1.45"/><circle cx="185.25" cy="690.20" r="1.45"/><circle cx="188.35" cy="690.20" r="1.45"/><circle cx="179.05" cy="693.80" r="1.45"/><circle cx="182.15" cy="693.80" r="1.45"/><circle cx="185.25" cy="693.80" r="1.45"/><circle cx="188.35" cy="693.80" r="1.45"/><circle cx="182.15" cy="696.40" r="1.45"/><circle cx="185.25" cy="696.40" r="1.45"/><circle cx="182.15" cy="699.00" r="1.45"/><circle cx="185.25" cy="699.00" r="1.45"/><circle cx="182.15" cy="701.50" r="1.45"/><circle cx="185.25" cy="701.50" r="1.45"/></g>
<g fill="#6aa8d6" stroke="#2a5a80" stroke-width="0.65"><circle cx="112.40" cy="673.00" r="1.45"/><circle cx="115.50" cy="673.00" r="1.45"/><circle cx="118.60" cy="673.00" r="1.45"/><circle cx="112.40" cy="679.80" r="1.45"/><circle cx="115.50" cy="679.80" r="1.45"/><circle cx="118.60" cy="679.80" r="1.45"/><circle cx="112.40" cy="682.50" r="1.45"/><circle cx="115.50" cy="682.50" r="1.45"/><circle cx="118.60" cy="682.50" r="1.45"/><circle cx="107.75" cy="686.70" r="1.45"/><circle cx="110.85" cy="686.70" r="1.45"/><circle cx="113.95" cy="686.70" r="1.45"/><circle cx="117.05" cy="686.70" r="1.45"/><circle cx="120.15" cy="686.70" r="1.45"/><circle cx="123.25" cy="686.70" r="1.45"/><circle cx="109.30" cy="690.00" r="1.45"/><circle cx="112.40" cy="690.00" r="1.45"/><circle cx="115.50" cy="690.00" r="1.45"/><circle cx="118.60" cy="690.00" r="1.45"/><circle cx="121.70" cy="690.00" r="1.45"/><circle cx="106.20" cy="692.80" r="1.45"/><circle cx="109.30" cy="692.80" r="1.45"/><circle cx="112.40" cy="692.80" r="1.45"/><circle cx="115.50" cy="692.80" r="1.45"/><circle cx="118.60" cy="692.80" r="1.45"/><circle cx="121.70" cy="692.80" r="1.45"/><circle cx="124.80" cy="692.80" r="1.45"/><circle cx="86.05" cy="696.30" r="1.45"/><circle cx="89.15" cy="696.30" r="1.45"/><circle cx="92.25" cy="696.30" r="1.45"/><circle cx="95.35" cy="696.30" r="1.45"/><circle cx="98.45" cy="696.30" r="1.45"/><circle cx="101.55" cy="696.30" r="1.45"/><circle cx="104.65" cy="696.30" r="1.45"/><circle cx="107.75" cy="696.30" r="1.45"/><circle cx="110.85" cy="696.30" r="1.45"/><circle cx="113.95" cy="696.30" r="1.45"/><circle cx="117.05" cy="696.30" r="1.45"/><circle cx="120.15" cy="696.30" r="1.45"/><circle cx="123.25" cy="696.30" r="1.45"/><circle cx="126.35" cy="696.30" r="1.45"/><circle cx="129.45" cy="696.30" r="1.45"/><circle cx="132.55" cy="696.30" r="1.45"/><circle cx="135.65" cy="696.30" r="1.45"/><circle cx="138.75" cy="696.30" r="1.45"/><circle cx="141.85" cy="696.30" r="1.45"/><circle cx="144.95" cy="696.30" r="1.45"/><circle cx="81.40" cy="699.80" r="1.45"/><circle cx="84.50" cy="699.80" r="1.45"/><circle cx="87.60" cy="699.80" r="1.45"/><circle cx="90.70" cy="699.80" r="1.45"/><circle cx="93.80" cy="699.80" r="1.45"/><circle cx="96.90" cy="699.80" r="1.45"/><circle cx="100.00" cy="699.80" r="1.45"/><circle cx="103.10" cy="699.80" r="1.45"/><circle cx="106.20" cy="699.80" r="1.45"/><circle cx="109.30" cy="699.80" r="1.45"/><circle cx="112.40" cy="699.80" r="1.45"/><circle cx="115.50" cy="699.80" r="1.45"/><circle cx="118.60" cy="699.80" r="1.45"/><circle cx="121.70" cy="699.80" r="1.45"/><circle cx="124.80" cy="699.80" r="1.45"/><circle cx="127.90" cy="699.80" r="1.45"/><circle cx="131.00" cy="699.80" r="1.45"/><circle cx="134.10" cy="699.80" r="1.45"/><circle cx="137.20" cy="699.80" r="1.45"/><circle cx="140.30" cy="699.80" r="1.45"/><circle cx="143.40" cy="699.80" r="1.45"/><circle cx="146.50" cy="699.80" r="1.45"/><circle cx="149.60" cy="699.80" r="1.45"/><circle cx="87.60" cy="702.90" r="1.45"/><circle cx="90.70" cy="702.90" r="1.45"/><circle cx="93.80" cy="702.90" r="1.45"/><circle cx="96.90" cy="702.90" r="1.45"/><circle cx="100.00" cy="702.90" r="1.45"/><circle cx="103.10" cy="702.90" r="1.45"/><circle cx="106.20" cy="702.90" r="1.45"/><circle cx="109.30" cy="702.90" r="1.45"/><circle cx="112.40" cy="702.90" r="1.45"/><circle cx="115.50" cy="702.90" r="1.45"/><circle cx="118.60" cy="702.90" r="1.45"/><circle cx="121.70" cy="702.90" r="1.45"/><circle cx="124.80" cy="702.90" r="1.45"/><circle cx="127.90" cy="702.90" r="1.45"/><circle cx="131.00" cy="702.90" r="1.45"/><circle cx="134.10" cy="702.90" r="1.45"/><circle cx="137.20" cy="702.90" r="1.45"/><circle cx="140.30" cy="702.90" r="1.45"/><circle cx="143.40" cy="702.90" r="1.45"/><circle cx="106.20" cy="706.10" r="1.45"/><circle cx="109.30" cy="706.10" r="1.45"/><circle cx="112.40" cy="706.10" r="1.45"/><circle cx="115.50" cy="706.10" r="1.45"/><circle cx="118.60" cy="706.10" r="1.45"/><circle cx="121.70" cy="706.10" r="1.45"/><circle cx="124.80" cy="706.10" r="1.45"/></g>
<rect x="177" y="634.2" width="12.4" height="2.4" fill="#e02020"/>
<rect x="109.8" y="695.1" width="11.5" height="2.4" fill="#e02020"/>
<path d="M114.6,481.9 V478.8 H184.6 V481.9" stroke="#000" stroke-width="1.4" fill="none"/>
<path d="M146.37,474.65 L146.37,472.08 M146.37,474.65 L148.81,473.86 M146.37,474.65 L147.88,476.73 M146.37,474.65 L144.85,476.73 M146.37,474.65 L143.92,473.86 M152.50,474.65 L152.50,472.08 M152.50,474.65 L154.95,473.86 M152.50,474.65 L154.01,476.73 M152.50,474.65 L150.99,476.73 M152.50,474.65 L150.05,473.86 M158.63,474.65 L158.63,472.08 M158.63,474.65 L161.08,473.86 M158.63,474.65 L160.15,476.73 M158.63,474.65 L157.12,476.73 M158.63,474.65 L156.19,473.86" stroke="#000" stroke-width="1.3" fill="none" stroke-linecap="round"/>
<text transform="translate(50.00,649.97) rotate(-90)" x="0" y="0" font-size="16.30" fill="#000" textLength="112.02" lengthAdjust="spacingAndGlyphs">Wing size (mm²)</text>
<text x="66.09" y="736.10" font-size="16.50" fill="#000" font-style="italic" textLength="57.55" lengthAdjust="spacingAndGlyphs" >Bap170</text><text x="124.09" y="730.80" font-size="9.30" fill="#000" font-style="italic" textLength="22.98" lengthAdjust="spacingAndGlyphs" >Δ135</text><text x="147.10" y="736.10" font-size="16.50" fill="#000" textLength="14.53" lengthAdjust="spacingAndGlyphs" >/+</text>
<text x="181.70" y="736.10" font-size="16.30" fill="#000" font-style="italic" textLength="11.64" lengthAdjust="spacingAndGlyphs" >w</text><text x="194.98" y="730.80" font-size="9.30" fill="#000" font-style="italic" textLength="19.17" lengthAdjust="spacingAndGlyphs" >1118</text>
<text x="424.80" y="487.50" font-size="17.00" fill="#000" textLength="12.62" lengthAdjust="spacingAndGlyphs" >F</text>
<line x1="489.6" y1="475.8" x2="489.6" y2="720.0" stroke="#808080" stroke-width="0.9"/>
<line x1="489.6" y1="720.0" x2="639.2" y2="720.0" stroke="#808080" stroke-width="0.9"/>
<line x1="487.1" y1="712.80" x2="489.6" y2="712.80" stroke="#808080" stroke-width="0.9"/>
<text x="471.46" y="716.80" font-size="11.50" fill="#6e6e6e" >0.0</text>
<line x1="487.1" y1="662.00" x2="489.6" y2="662.00" stroke="#808080" stroke-width="0.9"/>
<text x="471.50" y="666.00" font-size="11.50" fill="#6e6e6e" >0.5</text>
<line x1="487.1" y1="611.20" x2="489.6" y2="611.20" stroke="#808080" stroke-width="0.9"/>
<text x="471.46" y="615.20" font-size="11.50" fill="#6e6e6e" >1.0</text>
<line x1="487.1" y1="560.40" x2="489.6" y2="560.40" stroke="#808080" stroke-width="0.9"/>
<text x="471.50" y="564.40" font-size="11.50" fill="#6e6e6e" >1.5</text>
<line x1="487.1" y1="509.60" x2="489.6" y2="509.60" stroke="#808080" stroke-width="0.9"/>
<text x="471.46" y="513.60" font-size="11.50" fill="#6e6e6e" >2.0</text>
<line x1="530.2" y1="720.0" x2="530.2" y2="722.5" stroke="#808080" stroke-width="0.9"/>
<line x1="598.5" y1="720.0" x2="598.5" y2="722.5" stroke="#808080" stroke-width="0.9"/>
<g fill="#6aa8d6" stroke="#2a5a80" stroke-width="0.65"><circle cx="528.65" cy="499.10" r="1.45"/><circle cx="531.75" cy="499.10" r="1.45"/><circle cx="530.20" cy="523.20" r="1.45"/><circle cx="527.10" cy="525.20" r="1.45"/><circle cx="530.20" cy="525.20" r="1.45"/><circle cx="533.30" cy="525.20" r="1.45"/><circle cx="525.55" cy="528.20" r="1.45"/><circle cx="528.65" cy="528.20" r="1.45"/><circle cx="531.75" cy="528.20" r="1.45"/><circle cx="534.85" cy="528.20" r="1.45"/><circle cx="522.45" cy="533.20" r="1.45"/><circle cx="525.55" cy="533.20" r="1.45"/><circle cx="528.65" cy="533.20" r="1.45"/><circle cx="531.75" cy="533.20" r="1.45"/><circle cx="534.85" cy="533.20" r="1.45"/><circle cx="537.95" cy="533.20" r="1.45"/><circle cx="530.20" cy="539.90" r="1.45"/><circle cx="527.10" cy="545.70" r="1.45"/><circle cx="530.20" cy="545.70" r="1.45"/><circle cx="533.30" cy="545.70" r="1.45"/><circle cx="528.65" cy="553.20" r="1.45"/><circle cx="531.75" cy="553.20" r="1.45"/><circle cx="528.65" cy="559.00" r="1.45"/><circle cx="531.75" cy="559.00" r="1.45"/><circle cx="528.65" cy="564.00" r="1.45"/><circle cx="531.75" cy="564.00" r="1.45"/><circle cx="525.55" cy="569.50" r="1.45"/><circle cx="528.65" cy="569.50" r="1.45"/><circle cx="531.75" cy="569.50" r="1.45"/><circle cx="534.85" cy="569.50" r="1.45"/><circle cx="527.10" cy="578.50" r="1.45"/><circle cx="530.20" cy="578.50" r="1.45"/><circle cx="533.30" cy="578.50" r="1.45"/><circle cx="527.10" cy="580.40" r="1.45"/><circle cx="530.20" cy="580.40" r="1.45"/><circle cx="533.30" cy="580.40" r="1.45"/><circle cx="528.65" cy="584.80" r="1.45"/><circle cx="531.75" cy="584.80" r="1.45"/><circle cx="525.55" cy="587.30" r="1.45"/><circle cx="528.65" cy="587.30" r="1.45"/><circle cx="531.75" cy="587.30" r="1.45"/><circle cx="534.85" cy="587.30" r="1.45"/><circle cx="525.55" cy="589.20" r="1.45"/><circle cx="528.65" cy="589.20" r="1.45"/><circle cx="531.75" cy="589.20" r="1.45"/><circle cx="534.85" cy="589.20" r="1.45"/><circle cx="525.55" cy="592.30" r="1.45"/><circle cx="528.65" cy="592.30" r="1.45"/><circle cx="531.75" cy="592.30" r="1.45"/><circle cx="534.85" cy="592.30" r="1.45"/><circle cx="527.10" cy="597.00" r="1.45"/><circle cx="530.20" cy="597.00" r="1.45"/><circle cx="533.30" cy="597.00" r="1.45"/><circle cx="528.65" cy="602.30" r="1.45"/><circle cx="531.75" cy="602.30" r="1.45"/><circle cx="525.55" cy="608.00" r="1.45"/><circle cx="528.65" cy="608.00" r="1.45"/><circle cx="531.75" cy="608.00" r="1.45"/><circle cx="534.85" cy="608.00" r="1.45"/><circle cx="527.10" cy="610.70" r="1.45"/><circle cx="530.20" cy="610.70" r="1.45"/><circle cx="533.30" cy="610.70" r="1.45"/><circle cx="527.10" cy="615.30" r="1.45"/><circle cx="530.20" cy="615.30" r="1.45"/><circle cx="533.30" cy="615.30" r="1.45"/><circle cx="528.65" cy="621.10" r="1.45"/><circle cx="531.75" cy="621.10" r="1.45"/><circle cx="527.10" cy="624.40" r="1.45"/><circle cx="530.20" cy="624.40" r="1.45"/><circle cx="533.30" cy="624.40" r="1.45"/><circle cx="524.00" cy="628.00" r="1.45"/><circle cx="527.10" cy="628.00" r="1.45"/><circle cx="530.20" cy="628.00" r="1.45"/><circle cx="533.30" cy="628.00" r="1.45"/><circle cx="536.40" cy="628.00" r="1.45"/><circle cx="524.00" cy="632.60" r="1.45"/><circle cx="527.10" cy="632.60" r="1.45"/><circle cx="530.20" cy="632.60" r="1.45"/><circle cx="533.30" cy="632.60" r="1.45"/><circle cx="536.40" cy="632.60" r="1.45"/><circle cx="520.90" cy="637.40" r="1.45"/><circle cx="524.00" cy="637.40" r="1.45"/><circle cx="527.10" cy="637.40" r="1.45"/><circle cx="530.20" cy="637.40" r="1.45"/><circle cx="533.30" cy="637.40" r="1.45"/><circle cx="536.40" cy="637.40" r="1.45"/><circle cx="539.50" cy="637.40" r="1.45"/><circle cx="527.10" cy="644.60" r="1.45"/><circle cx="530.20" cy="644.60" r="1.45"/><circle cx="533.30" cy="644.60" r="1.45"/><circle cx="527.10" cy="649.80" r="1.45"/><circle cx="530.20" cy="649.80" r="1.45"/><circle cx="533.30" cy="649.80" r="1.45"/><circle cx="519.35" cy="654.10" r="1.45"/><circle cx="522.45" cy="654.10" r="1.45"/><circle cx="525.55" cy="654.10" r="1.45"/><circle cx="528.65" cy="654.10" r="1.45"/><circle cx="531.75" cy="654.10" r="1.45"/><circle cx="534.85" cy="654.10" r="1.45"/><circle cx="537.95" cy="654.10" r="1.45"/><circle cx="541.05" cy="654.10" r="1.45"/><circle cx="525.55" cy="656.40" r="1.45"/><circle cx="528.65" cy="656.40" r="1.45"/><circle cx="531.75" cy="656.40" r="1.45"/><circle cx="534.85" cy="656.40" r="1.45"/><circle cx="525.55" cy="658.40" r="1.45"/><circle cx="528.65" cy="658.40" r="1.45"/><circle cx="531.75" cy="658.40" r="1.45"/><circle cx="534.85" cy="658.40" r="1.45"/><circle cx="525.55" cy="660.30" r="1.45"/><circle cx="528.65" cy="660.30" r="1.45"/><circle cx="531.75" cy="660.30" r="1.45"/><circle cx="534.85" cy="660.30" r="1.45"/><circle cx="524.00" cy="662.70" r="1.45"/><circle cx="527.10" cy="662.70" r="1.45"/><circle cx="530.20" cy="662.70" r="1.45"/><circle cx="533.30" cy="662.70" r="1.45"/><circle cx="536.40" cy="662.70" r="1.45"/><circle cx="524.00" cy="665.00" r="1.45"/><circle cx="527.10" cy="665.00" r="1.45"/><circle cx="530.20" cy="665.00" r="1.45"/><circle cx="533.30" cy="665.00" r="1.45"/><circle cx="536.40" cy="665.00" r="1.45"/><circle cx="527.10" cy="669.30" r="1.45"/><circle cx="530.20" cy="669.30" r="1.45"/><circle cx="533.30" cy="669.30" r="1.45"/><circle cx="527.10" cy="676.30" r="1.45"/><circle cx="530.20" cy="676.30" r="1.45"/><circle cx="533.30" cy="676.30" r="1.45"/><circle cx="525.55" cy="679.80" r="1.45"/><circle cx="528.65" cy="679.80" r="1.45"/><circle cx="531.75" cy="679.80" r="1.45"/><circle cx="534.85" cy="679.80" r="1.45"/><circle cx="527.10" cy="684.70" r="1.45"/><circle cx="530.20" cy="684.70" r="1.45"/><circle cx="533.30" cy="684.70" r="1.45"/><circle cx="522.45" cy="688.80" r="1.45"/><circle cx="525.55" cy="688.80" r="1.45"/><circle cx="528.65" cy="688.80" r="1.45"/><circle cx="531.75" cy="688.80" r="1.45"/><circle cx="534.85" cy="688.80" r="1.45"/><circle cx="537.95" cy="688.80" r="1.45"/><circle cx="520.90" cy="692.30" r="1.45"/><circle cx="524.00" cy="692.30" r="1.45"/><circle cx="527.10" cy="692.30" r="1.45"/><circle cx="530.20" cy="692.30" r="1.45"/><circle cx="533.30" cy="692.30" r="1.45"/><circle cx="536.40" cy="692.30" r="1.45"/><circle cx="539.50" cy="692.30" r="1.45"/><circle cx="525.55" cy="696.90" r="1.45"/><circle cx="528.65" cy="696.90" r="1.45"/><circle cx="531.75" cy="696.90" r="1.45"/><circle cx="534.85" cy="696.90" r="1.45"/><circle cx="525.55" cy="702.30" r="1.45"/><circle cx="528.65" cy="702.30" r="1.45"/><circle cx="531.75" cy="702.30" r="1.45"/><circle cx="534.85" cy="702.30" r="1.45"/></g>
<g fill="#9a9a9a" stroke="#4a4a4a" stroke-width="0.65"><circle cx="596.95" cy="488.50" r="1.45"/><circle cx="600.05" cy="488.50" r="1.45"/><circle cx="595.40" cy="494.20" r="1.45"/><circle cx="598.50" cy="494.20" r="1.45"/><circle cx="601.60" cy="494.20" r="1.45"/><circle cx="598.50" cy="530.00" r="1.45"/><circle cx="598.50" cy="537.80" r="1.45"/><circle cx="596.95" cy="542.80" r="1.45"/><circle cx="600.05" cy="542.80" r="1.45"/><circle cx="595.40" cy="552.50" r="1.45"/><circle cx="598.50" cy="552.50" r="1.45"/><circle cx="601.60" cy="552.50" r="1.45"/><circle cx="598.50" cy="557.00" r="1.45"/><circle cx="592.30" cy="560.00" r="1.45"/><circle cx="595.40" cy="560.00" r="1.45"/><circle cx="598.50" cy="560.00" r="1.45"/><circle cx="601.60" cy="560.00" r="1.45"/><circle cx="604.70" cy="560.00" r="1.45"/><circle cx="592.30" cy="574.10" r="1.45"/><circle cx="595.40" cy="574.10" r="1.45"/><circle cx="598.50" cy="574.10" r="1.45"/><circle cx="601.60" cy="574.10" r="1.45"/><circle cx="604.70" cy="574.10" r="1.45"/><circle cx="595.40" cy="578.20" r="1.45"/><circle cx="598.50" cy="578.20" r="1.45"/><circle cx="601.60" cy="578.20" r="1.45"/><circle cx="595.40" cy="583.80" r="1.45"/><circle cx="598.50" cy="583.80" r="1.45"/><circle cx="601.60" cy="583.80" r="1.45"/><circle cx="595.40" cy="586.70" r="1.45"/><circle cx="598.50" cy="586.70" r="1.45"/><circle cx="601.60" cy="586.70" r="1.45"/><circle cx="596.95" cy="596.60" r="1.45"/><circle cx="600.05" cy="596.60" r="1.45"/><circle cx="593.85" cy="600.00" r="1.45"/><circle cx="596.95" cy="600.00" r="1.45"/><circle cx="600.05" cy="600.00" r="1.45"/><circle cx="603.15" cy="600.00" r="1.45"/><circle cx="593.85" cy="604.30" r="1.45"/><circle cx="596.95" cy="604.30" r="1.45"/><circle cx="600.05" cy="604.30" r="1.45"/><circle cx="603.15" cy="604.30" r="1.45"/><circle cx="596.95" cy="612.00" r="1.45"/><circle cx="600.05" cy="612.00" r="1.45"/><circle cx="595.40" cy="616.60" r="1.45"/><circle cx="598.50" cy="616.60" r="1.45"/><circle cx="601.60" cy="616.60" r="1.45"/><circle cx="598.50" cy="625.80" r="1.45"/><circle cx="595.40" cy="628.80" r="1.45"/><circle cx="598.50" cy="628.80" r="1.45"/><circle cx="601.60" cy="628.80" r="1.45"/><circle cx="590.75" cy="632.10" r="1.45"/><circle cx="593.85" cy="632.10" r="1.45"/><circle cx="596.95" cy="632.10" r="1.45"/><circle cx="600.05" cy="632.10" r="1.45"/><circle cx="603.15" cy="632.10" r="1.45"/><circle cx="606.25" cy="632.10" r="1.45"/><circle cx="595.40" cy="636.90" r="1.45"/><circle cx="598.50" cy="636.90" r="1.45"/><circle cx="601.60" cy="636.90" r="1.45"/><circle cx="593.85" cy="641.30" r="1.45"/><circle cx="596.95" cy="641.30" r="1.45"/><circle cx="600.05" cy="641.30" r="1.45"/><circle cx="603.15" cy="641.30" r="1.45"/><circle cx="590.75" cy="646.10" r="1.45"/><circle cx="593.85" cy="646.10" r="1.45"/><circle cx="596.95" cy="646.10" r="1.45"/><circle cx="600.05" cy="646.10" r="1.45"/><circle cx="603.15" cy="646.10" r="1.45"/><circle cx="606.25" cy="646.10" r="1.45"/><circle cx="595.40" cy="651.30" r="1.45"/><circle cx="598.50" cy="651.30" r="1.45"/><circle cx="601.60" cy="651.30" r="1.45"/><circle cx="593.85" cy="654.80" r="1.45"/><circle cx="596.95" cy="654.80" r="1.45"/><circle cx="600.05" cy="654.80" r="1.45"/><circle cx="603.15" cy="654.80" r="1.45"/><circle cx="590.75" cy="658.10" r="1.45"/><circle cx="593.85" cy="658.10" r="1.45"/><circle cx="596.95" cy="658.10" r="1.45"/><circle cx="600.05" cy="658.10" r="1.45"/><circle cx="603.15" cy="658.10" r="1.45"/><circle cx="606.25" cy="658.10" r="1.45"/><circle cx="593.85" cy="662.00" r="1.45"/><circle cx="596.95" cy="662.00" r="1.45"/><circle cx="600.05" cy="662.00" r="1.45"/><circle cx="603.15" cy="662.00" r="1.45"/><circle cx="589.20" cy="665.60" r="1.45"/><circle cx="592.30" cy="665.60" r="1.45"/><circle cx="595.40" cy="665.60" r="1.45"/><circle cx="598.50" cy="665.60" r="1.45"/><circle cx="601.60" cy="665.60" r="1.45"/><circle cx="604.70" cy="665.60" r="1.45"/><circle cx="607.80" cy="665.60" r="1.45"/><circle cx="584.55" cy="670.40" r="1.45"/><circle cx="587.65" cy="670.40" r="1.45"/><circle cx="590.75" cy="670.40" r="1.45"/><circle cx="593.85" cy="670.40" r="1.45"/><circle cx="596.95" cy="670.40" r="1.45"/><circle cx="600.05" cy="670.40" r="1.45"/><circle cx="603.15" cy="670.40" r="1.45"/><circle cx="606.25" cy="670.40" r="1.45"/><circle cx="609.35" cy="670.40" r="1.45"/><circle cx="612.45" cy="670.40" r="1.45"/><circle cx="578.35" cy="673.80" r="1.45"/><circle cx="581.45" cy="673.80" r="1.45"/><circle cx="584.55" cy="673.80" r="1.45"/><circle cx="587.65" cy="673.80" r="1.45"/><circle cx="590.75" cy="673.80" r="1.45"/><circle cx="593.85" cy="673.80" r="1.45"/><circle cx="596.95" cy="673.80" r="1.45"/><circle cx="600.05" cy="673.80" r="1.45"/><circle cx="603.15" cy="673.80" r="1.45"/><circle cx="606.25" cy="673.80" r="1.45"/><circle cx="609.35" cy="673.80" r="1.45"/><circle cx="612.45" cy="673.80" r="1.45"/><circle cx="615.55" cy="673.80" r="1.45"/><circle cx="618.65" cy="673.80" r="1.45"/><circle cx="570.60" cy="678.00" r="1.45"/><circle cx="573.70" cy="678.00" r="1.45"/><circle cx="576.80" cy="678.00" r="1.45"/><circle cx="579.90" cy="678.00" r="1.45"/><circle cx="583.00" cy="678.00" r="1.45"/><circle cx="586.10" cy="678.00" r="1.45"/><circle cx="589.20" cy="678.00" r="1.45"/><circle cx="592.30" cy="678.00" r="1.45"/><circle cx="595.40" cy="678.00" r="1.45"/><circle cx="598.50" cy="678.00" r="1.45"/><circle cx="601.60" cy="678.00" r="1.45"/><circle cx="604.70" cy="678.00" r="1.45"/><circle cx="607.80" cy="678.00" r="1.45"/><circle cx="610.90" cy="678.00" r="1.45"/><circle cx="614.00" cy="678.00" r="1.45"/><circle cx="617.10" cy="678.00" r="1.45"/><circle cx="620.20" cy="678.00" r="1.45"/><circle cx="623.30" cy="678.00" r="1.45"/><circle cx="626.40" cy="678.00" r="1.45"/><circle cx="579.90" cy="682.00" r="1.45"/><circle cx="583.00" cy="682.00" r="1.45"/><circle cx="586.10" cy="682.00" r="1.45"/><circle cx="589.20" cy="682.00" r="1.45"/><circle cx="592.30" cy="682.00" r="1.45"/><circle cx="595.40" cy="682.00" r="1.45"/><circle cx="598.50" cy="682.00" r="1.45"/><circle cx="601.60" cy="682.00" r="1.45"/><circle cx="604.70" cy="682.00" r="1.45"/><circle cx="607.80" cy="682.00" r="1.45"/><circle cx="610.90" cy="682.00" r="1.45"/><circle cx="614.00" cy="682.00" r="1.45"/><circle cx="617.10" cy="682.00" r="1.45"/><circle cx="570.60" cy="685.70" r="1.45"/><circle cx="573.70" cy="685.70" r="1.45"/><circle cx="576.80" cy="685.70" r="1.45"/><circle cx="579.90" cy="685.70" r="1.45"/><circle cx="583.00" cy="685.70" r="1.45"/><circle cx="586.10" cy="685.70" r="1.45"/><circle cx="589.20" cy="685.70" r="1.45"/><circle cx="592.30" cy="685.70" r="1.45"/><circle cx="595.40" cy="685.70" r="1.45"/><circle cx="598.50" cy="685.70" r="1.45"/><circle cx="601.60" cy="685.70" r="1.45"/><circle cx="604.70" cy="685.70" r="1.45"/><circle cx="607.80" cy="685.70" r="1.45"/><circle cx="610.90" cy="685.70" r="1.45"/><circle cx="614.00" cy="685.70" r="1.45"/><circle cx="617.10" cy="685.70" r="1.45"/><circle cx="620.20" cy="685.70" r="1.45"/><circle cx="623.30" cy="685.70" r="1.45"/><circle cx="626.40" cy="685.70" r="1.45"/><circle cx="573.70" cy="689.20" r="1.45"/><circle cx="576.80" cy="689.20" r="1.45"/><circle cx="579.90" cy="689.20" r="1.45"/><circle cx="583.00" cy="689.20" r="1.45"/><circle cx="586.10" cy="689.20" r="1.45"/><circle cx="589.20" cy="689.20" r="1.45"/><circle cx="592.30" cy="689.20" r="1.45"/><circle cx="595.40" cy="689.20" r="1.45"/><circle cx="598.50" cy="689.20" r="1.45"/><circle cx="601.60" cy="689.20" r="1.45"/><circle cx="604.70" cy="689.20" r="1.45"/><circle cx="607.80" cy="689.20" r="1.45"/><circle cx="610.90" cy="689.20" r="1.45"/><circle cx="614.00" cy="689.20" r="1.45"/><circle cx="617.10" cy="689.20" r="1.45"/><circle cx="620.20" cy="689.20" r="1.45"/><circle cx="623.30" cy="689.20" r="1.45"/><circle cx="569.05" cy="693.00" r="1.45"/><circle cx="572.15" cy="693.00" r="1.45"/><circle cx="575.25" cy="693.00" r="1.45"/><circle cx="578.35" cy="693.00" r="1.45"/><circle cx="581.45" cy="693.00" r="1.45"/><circle cx="584.55" cy="693.00" r="1.45"/><circle cx="587.65" cy="693.00" r="1.45"/><circle cx="590.75" cy="693.00" r="1.45"/><circle cx="593.85" cy="693.00" r="1.45"/><circle cx="596.95" cy="693.00" r="1.45"/><circle cx="600.05" cy="693.00" r="1.45"/><circle cx="603.15" cy="693.00" r="1.45"/><circle cx="606.25" cy="693.00" r="1.45"/><circle cx="609.35" cy="693.00" r="1.45"/><circle cx="612.45" cy="693.00" r="1.45"/><circle cx="615.55" cy="693.00" r="1.45"/><circle cx="618.65" cy="693.00" r="1.45"/><circle cx="621.75" cy="693.00" r="1.45"/><circle cx="624.85" cy="693.00" r="1.45"/><circle cx="627.95" cy="693.00" r="1.45"/><circle cx="569.05" cy="696.40" r="1.45"/><circle cx="572.15" cy="696.40" r="1.45"/><circle cx="575.25" cy="696.40" r="1.45"/><circle cx="578.35" cy="696.40" r="1.45"/><circle cx="581.45" cy="696.40" r="1.45"/><circle cx="584.55" cy="696.40" r="1.45"/><circle cx="587.65" cy="696.40" r="1.45"/><circle cx="590.75" cy="696.40" r="1.45"/><circle cx="593.85" cy="696.40" r="1.45"/><circle cx="596.95" cy="696.40" r="1.45"/><circle cx="600.05" cy="696.40" r="1.45"/><circle cx="603.15" cy="696.40" r="1.45"/><circle cx="606.25" cy="696.40" r="1.45"/><circle cx="609.35" cy="696.40" r="1.45"/><circle cx="612.45" cy="696.40" r="1.45"/><circle cx="615.55" cy="696.40" r="1.45"/><circle cx="618.65" cy="696.40" r="1.45"/><circle cx="621.75" cy="696.40" r="1.45"/><circle cx="624.85" cy="696.40" r="1.45"/><circle cx="627.95" cy="696.40" r="1.45"/><circle cx="556.65" cy="700.40" r="1.45"/><circle cx="559.75" cy="700.40" r="1.45"/><circle cx="562.85" cy="700.40" r="1.45"/><circle cx="565.95" cy="700.40" r="1.45"/><circle cx="569.05" cy="700.40" r="1.45"/><circle cx="572.15" cy="700.40" r="1.45"/><circle cx="575.25" cy="700.40" r="1.45"/><circle cx="578.35" cy="700.40" r="1.45"/><circle cx="581.45" cy="700.40" r="1.45"/><circle cx="584.55" cy="700.40" r="1.45"/><circle cx="587.65" cy="700.40" r="1.45"/><circle cx="590.75" cy="700.40" r="1.45"/><circle cx="593.85" cy="700.40" r="1.45"/><circle cx="596.95" cy="700.40" r="1.45"/><circle cx="600.05" cy="700.40" r="1.45"/><circle cx="603.15" cy="700.40" r="1.45"/><circle cx="606.25" cy="700.40" r="1.45"/><circle cx="609.35" cy="700.40" r="1.45"/><circle cx="612.45" cy="700.40" r="1.45"/><circle cx="615.55" cy="700.40" r="1.45"/><circle cx="618.65" cy="700.40" r="1.45"/><circle cx="621.75" cy="700.40" r="1.45"/><circle cx="624.85" cy="700.40" r="1.45"/><circle cx="627.95" cy="700.40" r="1.45"/><circle cx="631.05" cy="700.40" r="1.45"/><circle cx="634.15" cy="700.40" r="1.45"/><circle cx="637.25" cy="700.40" r="1.45"/><circle cx="640.35" cy="700.40" r="1.45"/><circle cx="561.30" cy="703.80" r="1.45"/><circle cx="564.40" cy="703.80" r="1.45"/><circle cx="567.50" cy="703.80" r="1.45"/><circle cx="570.60" cy="703.80" r="1.45"/><circle cx="573.70" cy="703.80" r="1.45"/><circle cx="576.80" cy="703.80" r="1.45"/><circle cx="579.90" cy="703.80" r="1.45"/><circle cx="583.00" cy="703.80" r="1.45"/><circle cx="586.10" cy="703.80" r="1.45"/><circle cx="589.20" cy="703.80" r="1.45"/><circle cx="592.30" cy="703.80" r="1.45"/><circle cx="595.40" cy="703.80" r="1.45"/><circle cx="598.50" cy="703.80" r="1.45"/><circle cx="601.60" cy="703.80" r="1.45"/><circle cx="604.70" cy="703.80" r="1.45"/><circle cx="607.80" cy="703.80" r="1.45"/><circle cx="610.90" cy="703.80" r="1.45"/><circle cx="614.00" cy="703.80" r="1.45"/><circle cx="617.10" cy="703.80" r="1.45"/><circle cx="620.20" cy="703.80" r="1.45"/><circle cx="623.30" cy="703.80" r="1.45"/><circle cx="626.40" cy="703.80" r="1.45"/><circle cx="629.50" cy="703.80" r="1.45"/><circle cx="632.60" cy="703.80" r="1.45"/><circle cx="635.70" cy="703.80" r="1.45"/><circle cx="576.80" cy="707.20" r="1.45"/><circle cx="579.90" cy="707.20" r="1.45"/><circle cx="583.00" cy="707.20" r="1.45"/><circle cx="586.10" cy="707.20" r="1.45"/><circle cx="589.20" cy="707.20" r="1.45"/><circle cx="592.30" cy="707.20" r="1.45"/><circle cx="595.40" cy="707.20" r="1.45"/><circle cx="598.50" cy="707.20" r="1.45"/><circle cx="601.60" cy="707.20" r="1.45"/><circle cx="604.70" cy="707.20" r="1.45"/><circle cx="607.80" cy="707.20" r="1.45"/><circle cx="610.90" cy="707.20" r="1.45"/><circle cx="614.00" cy="707.20" r="1.45"/><circle cx="617.10" cy="707.20" r="1.45"/><circle cx="620.20" cy="707.20" r="1.45"/></g>
<rect x="523.4" y="618.8" width="13.5" height="1.2" fill="#e03030"/>
<rect x="525.5" y="623.2" width="9.5" height="2.4" fill="#e02020"/>
<rect x="591.8" y="662.5" width="13.3" height="2.6" fill="#e02020"/>
<path d="M529.4,481.3 V478.5 H599 V481.3" stroke="#000" stroke-width="1.4" fill="none"/>
<path d="M558.07,474.25 L558.07,471.68 M558.07,474.25 L560.51,473.46 M558.07,474.25 L559.58,476.33 M558.07,474.25 L556.55,476.33 M558.07,474.25 L555.62,473.46 M564.20,474.25 L564.20,471.68 M564.20,474.25 L566.65,473.46 M564.20,474.25 L565.71,476.33 M564.20,474.25 L562.69,476.33 M564.20,474.25 L561.75,473.46 M570.33,474.25 L570.33,471.68 M570.33,474.25 L572.78,473.46 M570.33,474.25 L571.85,476.33 M570.33,474.25 L568.82,476.33 M570.33,474.25 L567.89,473.46" stroke="#000" stroke-width="1.3" fill="none" stroke-linecap="round"/>
<text transform="translate(465.50,651.17) rotate(-90)" x="0" y="0" font-size="16.30" fill="#000" textLength="112.12" lengthAdjust="spacingAndGlyphs">Wing size (mm²)</text>
<text x="502.15" y="736.50" font-size="16.50" fill="#000" font-style="italic" textLength="27.33" lengthAdjust="spacingAndGlyphs" >osa</text><text x="529.07" y="731.20" font-size="9.30" fill="#000" font-style="italic" textLength="16.69" lengthAdjust="spacingAndGlyphs" >308</text><text x="545.70" y="736.50" font-size="16.50" fill="#000" textLength="14.85" lengthAdjust="spacingAndGlyphs" >/+</text>
<text x="589.20" y="736.50" font-size="16.30" fill="#000" font-style="italic" textLength="11.64" lengthAdjust="spacingAndGlyphs" >w</text><text x="602.48" y="731.20" font-size="9.30" fill="#000" font-style="italic" textLength="18.67" lengthAdjust="spacingAndGlyphs" >1118</text>
<defs><linearGradient id="bgG" x1="0" x2="1" y1="0" y2="0"><stop offset="0" stop-color="#e2e2e5"/><stop offset="0.1" stop-color="#e6e6e9"/><stop offset="0.6" stop-color="#e5e5e8"/><stop offset="0.9" stop-color="#dfdfe2"/><stop offset="1" stop-color="#d6d6d9"/></linearGradient></defs>
<rect x="4.2" y="742.5" width="254.4" height="135" fill="url(#bgG)"/>
<path d="M16.5,763.3 C50,762 120,762 155,767.7 C185,772 212,785 222,800 C228,812 224,826 214,831.6 C200,840 180,850 155,854 C130,857 110,856.5 94.6,854.9 C80,852 72,849 69,847.2 C62,843 58,840 56.2,837 C50,828 46,818 43.4,811.3 C38,810 35,808 33.2,806.2 C28,798 25,790 22.9,784.4 C19,780 15,772 16.5,763.3 Z" fill="#e9e5e0" stroke="#c9b49c" stroke-width="0.6"/>
<path d="M16.5,763.3 C50,762 120,762 155,767.7 C185,772 212,785 222,800" stroke="#a88a6a" stroke-width="1.1" fill="none"/>
<path d="M30,770 C70,771 120,772 183,774.6 C195,776 203,779 208,782 M40,775 C80,780 150,795 221,811 M45,780 C70,790 95,800 121,808 C160,818 190,824 214,830 M121,807 L114,825 M45,795 C70,805 95,815 114,825 C125,832 138,842 145,854 M86,779 L90,792 M60,768 C70,768 75,766 80,764" stroke="#c9ad8c" stroke-width="0.8" fill="none"/>
<path d="M15,763 L45,762 L80,764 L78,769 L55,771 L40,776 L30,781 L22,782 L16,776 Z" fill="#e2d3bf" stroke="#c0a27e" stroke-width="0.6"/>
<path d="M18,766 L60,766 M20,770 L48,772 M24,776 L40,774" stroke="#bf9e78" stroke-width="0.7" fill="none"/>
<line x1="32.1" y1="782.5" x2="214.3" y2="830.6" stroke="#000" stroke-width="2"/>
<text x="113.77" y="786.90" font-size="12.80" fill="#000" textLength="48.96" lengthAdjust="spacingAndGlyphs" >Anterior</text>
<text x="113.14" y="841.70" font-size="12.80" fill="#000" textLength="56.80" lengthAdjust="spacingAndGlyphs" >Posterior</text>
<text x="5.73" y="874.00" font-size="17.20" fill="#000" textLength="165.36" lengthAdjust="spacingAndGlyphs" >Wild type regenerated</text>
<line x1="201.5" y1="863.5" x2="246.1" y2="863.5" stroke="#000" stroke-width="2.3"/>
<text x="4.36" y="760.30" font-size="16.20" fill="#000" textLength="14.54" lengthAdjust="spacingAndGlyphs" >G</text>
<rect x="4.2" y="884.5" width="254.4" height="135.2" fill="url(#bgG)"/>
<path d="M29.4,935.5 C35,925 55,912 86.4,904.4 C110,899 140,897.5 172.8,903 C198,909 214,925 216.8,945 C219,962 210,979 197,990 C186,998 176,1003 162.5,1003.8 C145,1004 128,1002 110,997 C90,990 70,976 52,960 C42,951 34,942 29.4,935.5 Z" fill="#e3dfdb" stroke="#8c7868" stroke-width="0.9"/>
<path d="M32,933 C80,910 150,905 200,918 M34,935 C90,925 150,925 214,948 M36,938 C90,940 150,950 205,975 M40,940 C70,955 100,965 135,998 M60,948 C80,955 95,958 110,962 C120,975 125,985 140,1000 M35,934 C60,920 80,912 100,906 M45,935 L70,930 L90,938 M150,950 C155,965 165,985 170,1000" stroke="#a4876a" stroke-width="0.9" fill="none"/>
<path d="M40,930 L55,925 L70,935 L85,930 L100,940 L110,935 M50,945 L65,950 L80,947 L95,955 L105,952 M70,935 L72,948 M85,930 L88,945 M100,940 L98,956 M110,935 L120,945 L135,943 L150,948 M60,955 L75,965 L90,968 M95,955 L100,970 L115,978" stroke="#a88a6c" stroke-width="0.7" fill="none"/>
<path d="M26,932 L36,926 L48,928 L44,940 L32,942 Z" fill="#d8c6b0" stroke="#b89a7a" stroke-width="0.6"/>
<line x1="63.6" y1="961.5" x2="79.2" y2="957.4" stroke="#e8202a" stroke-width="3.2"/><path d="M86.9,955.3 L80.4,961.8 L78.0,952.9 Z" fill="#e8202a"/>
<line x1="57.0" y1="984.8" x2="72.0" y2="980.4" stroke="#f7941d" stroke-width="3.2"/><path d="M79.7,978.2 L73.3,984.9 L70.7,976.0 Z" fill="#f7941d"/>
<line x1="100.0" y1="1004.5" x2="115.2" y2="999.8" stroke="#3cb44b" stroke-width="3.2"/><path d="M122.8,997.4 L116.5,1004.2 L113.8,995.4 Z" fill="#3cb44b"/>
<line x1="197.7" y1="1013.3" x2="186.1" y2="1007.5" stroke="#29abe2" stroke-width="3.2"/><path d="M179.0,1003.9 L188.2,1003.4 L184.1,1011.6 Z" fill="#29abe2"/>
<line x1="226.4" y1="988.4" x2="213.8" y2="981.7" stroke="#7b3f9e" stroke-width="3.2"/><path d="M206.7,978.0 L215.9,977.7 L211.6,985.8 Z" fill="#7b3f9e"/>
<line x1="201.5" y1="1005.3" x2="246.1" y2="1005.3" stroke="#000" stroke-width="2.3"/>
<text x="4.82" y="902.70" font-size="16.00" fill="#000" textLength="12.15" lengthAdjust="spacingAndGlyphs" >H</text>
<text x="4.88" y="1018.30" font-size="17.20" fill="#000" font-style="italic" textLength="25.46" lengthAdjust="spacingAndGlyphs" >osa</text><text x="30.27" y="1012.50" font-size="10.00" fill="#000" font-style="italic" textLength="16.59" lengthAdjust="spacingAndGlyphs" >308</text><text x="47.20" y="1018.30" font-size="17.20" fill="#000" textLength="112.41" lengthAdjust="spacingAndGlyphs" >/+ regenerated</text>
<text x="349.73" y="760.50" font-size="17.00" fill="#000" >I</text>
<text x="390.26" y="778.90" font-size="19.60" fill="#000" textLength="347.66" lengthAdjust="spacingAndGlyphs" >Quantification of P-to-A transformations</text>
<line x1="423.5" y1="806.0" x2="423.5" y2="980.8" stroke="#a6a6a6" stroke-width="1"/>
<line x1="423.5" y1="980.8" x2="423.5" y2="985.3" stroke="#a6a6a6" stroke-width="1"/>
<line x1="560" y1="980.8" x2="560" y2="985.3" stroke="#a6a6a6" stroke-width="1"/>
<line x1="696" y1="980.8" x2="696" y2="985.3" stroke="#a6a6a6" stroke-width="1"/>
<line x1="419.3" y1="980.80" x2="423.5" y2="980.80" stroke="#a6a6a6" stroke-width="1"/>
<text x="387.88" y="985.80" font-size="14.20" fill="#000" >0%</text>
<line x1="419.3" y1="945.84" x2="423.5" y2="945.84" stroke="#a6a6a6" stroke-width="1"/>
<text x="379.99" y="950.84" font-size="14.20" fill="#000" >20%</text>
<line x1="419.3" y1="910.88" x2="423.5" y2="910.88" stroke="#a6a6a6" stroke-width="1"/>
<text x="379.99" y="915.88" font-size="14.20" fill="#000" >40%</text>
<line x1="419.3" y1="875.92" x2="423.5" y2="875.92" stroke="#a6a6a6" stroke-width="1"/>
<text x="379.99" y="880.92" font-size="14.20" fill="#000" >60%</text>
<line x1="419.3" y1="840.96" x2="423.5" y2="840.96" stroke="#a6a6a6" stroke-width="1"/>
<text x="379.99" y="845.96" font-size="14.20" fill="#000" >80%</text>
<line x1="419.3" y1="806.00" x2="423.5" y2="806.00" stroke="#a6a6a6" stroke-width="1"/>
<text x="372.09" y="811.00" font-size="14.20" fill="#000" >100%</text>
<rect x="465.5" y="848.80" width="53.90" height="132.00" fill="#fff" stroke="#000" stroke-width="1.4"/>
<rect x="465.5" y="821.80" width="53.90" height="27.00" fill="#ffff00" stroke="#000" stroke-width="1.4"/>
<rect x="465.5" y="810.90" width="53.90" height="10.90" fill="#ccffcc" stroke="#000" stroke-width="1.4"/>
<rect x="465.5" y="806.00" width="53.90" height="4.90" fill="#0b760b" stroke="#000" stroke-width="1.4"/>
<rect x="600.8" y="938.00" width="54.40" height="42.80" fill="#fff" stroke="#000" stroke-width="1.4"/>
<rect x="600.8" y="932.40" width="54.40" height="5.60" fill="#ffff00" stroke="#000" stroke-width="1.4"/>
<rect x="600.8" y="924.10" width="54.40" height="8.30" fill="#ccffcc" stroke="#000" stroke-width="1.4"/>
<rect x="600.8" y="916.30" width="54.40" height="7.80" fill="#0b760b" stroke="#000" stroke-width="1.4"/>
<rect x="600.8" y="872.70" width="54.40" height="43.60" fill="#0000ff" stroke="#000" stroke-width="1.4"/>
<rect x="600.8" y="806.00" width="54.40" height="66.70" fill="#000" stroke="#000" stroke-width="1.4"/>
<line x1="423.5" y1="980.8" x2="696" y2="980.8" stroke="#a6a6a6" stroke-width="1.5"/>
<path d="M497.7,802.7 V798.6 H625.4 V802.7" stroke="#222" stroke-width="1.2" fill="none"/>
<path d="M556.60,792.30 L556.60,789.46 M556.60,792.30 L559.30,791.42 M556.60,792.30 L558.27,794.59 M556.60,792.30 L554.93,794.59 M556.60,792.30 L553.90,791.42 M563.00,792.30 L563.00,789.46 M563.00,792.30 L565.70,791.42 M563.00,792.30 L564.67,794.59 M563.00,792.30 L561.33,794.59 M563.00,792.30 L560.30,791.42 M569.40,792.30 L569.40,789.46 M569.40,792.30 L572.10,791.42 M569.40,792.30 L571.07,794.59 M569.40,792.30 L567.73,794.59 M569.40,792.30 L566.70,791.42" stroke="#000" stroke-width="1.3" fill="none" stroke-linecap="round"/>
<text transform="translate(367.50,967.49) rotate(-90)" x="0" y="0" font-size="16.60" fill="#000" textLength="154.01" lengthAdjust="spacingAndGlyphs">Percentage of wings</text>
<text x="476.64" y="998.30" font-size="15.50" fill="#000" font-style="italic" textLength="12.53" lengthAdjust="spacingAndGlyphs" >w</text><text x="490.68" y="993.00" font-size="8.80" fill="#000" font-style="italic" textLength="19.07" lengthAdjust="spacingAndGlyphs" >1118</text>
<text x="599.85" y="998.30" font-size="15.50" fill="#000" font-style="italic" textLength="26.92" lengthAdjust="spacingAndGlyphs" >osa</text><text x="626.46" y="993.00" font-size="8.80" fill="#000" font-style="italic" textLength="17.30" lengthAdjust="spacingAndGlyphs" >308</text><text x="644.20" y="998.30" font-size="15.50" fill="#000" textLength="14.21" lengthAdjust="spacingAndGlyphs" >/+</text>
<rect x="696.2" y="840.00" width="9.3" height="9.3" fill="#000" stroke="#000" stroke-width="1"/>
<text x="709.67" y="849.40" font-size="13.50" fill="#000" textLength="69.59" lengthAdjust="spacingAndGlyphs" >5 Markers</text>
<rect x="696.2" y="862.20" width="9.3" height="9.3" fill="#0000ff" stroke="#000" stroke-width="1"/>
<text x="709.94" y="871.60" font-size="13.50" fill="#000" textLength="69.32" lengthAdjust="spacingAndGlyphs" >4 Markers</text>
<rect x="696.2" y="884.40" width="9.3" height="9.3" fill="#0b760b" stroke="#000" stroke-width="1"/>
<text x="709.70" y="893.80" font-size="13.50" fill="#000" textLength="69.56" lengthAdjust="spacingAndGlyphs" >3 Markers</text>
<rect x="696.2" y="906.60" width="9.3" height="9.3" fill="#ccffcc" stroke="#000" stroke-width="1"/>
<text x="709.51" y="916.00" font-size="13.50" fill="#000" textLength="69.76" lengthAdjust="spacingAndGlyphs" >2 Markers</text>
<rect x="696.2" y="928.80" width="9.3" height="9.3" fill="#ffff00" stroke="#000" stroke-width="1"/>
<text x="709.07" y="938.20" font-size="13.50" fill="#000" textLength="63.70" lengthAdjust="spacingAndGlyphs" >1 Marker</text>
<rect x="696.2" y="951.00" width="9.3" height="9.3" fill="#fff" stroke="#000" stroke-width="1"/>
<text x="709.69" y="960.40" font-size="13.50" fill="#000" textLength="69.58" lengthAdjust="spacingAndGlyphs" >0 Markers</text></svg></body></html>
